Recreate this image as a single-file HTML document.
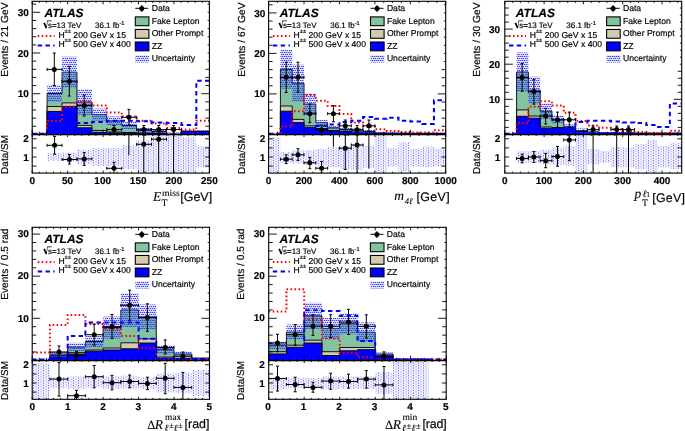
<!DOCTYPE html><html><head><meta charset="utf-8"><style>html,body{margin:0;padding:0;background:#fff;width:685px;height:431px;overflow:hidden}svg{display:block;will-change:transform}text{fill:#000;stroke:#000;stroke-width:0.18px;text-rendering:geometricPrecision}text[font-family="Liberation Serif"]{stroke-width:0.1px}</style></head><body><svg width="685" height="431" viewBox="0 0 685 431" font-family="Liberation Sans"><defs><pattern id="dots" width="4" height="4" patternUnits="userSpaceOnUse"><rect x="0" y="0" width="4" height="4" fill="#0000ff" fill-opacity="0.12"/><rect x="0" y="0" width="1.35" height="1" fill="#3c3cff"/><rect x="2" y="0" width="1.35" height="1" fill="#3c3cff"/><rect x="1" y="2" width="1.35" height="1" fill="#3c3cff"/><rect x="3" y="2" width="1.35" height="1" fill="#3c3cff"/></pattern><pattern id="dots2" width="5" height="5" patternUnits="userSpaceOnUse"><rect x="0" y="0" width="5" height="5" fill="#0000ff" fill-opacity="0.05"/><rect x="3" y="0" width="1" height="1.2" fill="#7070ff"/><rect x="3" y="2.5" width="1" height="1.2" fill="#7070ff"/><rect x="0.5" y="1.25" width="1.2" height="1" fill="#a0a0ff"/><rect x="0.5" y="3.75" width="1.2" height="1" fill="#a0a0ff"/></pattern></defs><clipPath id="cm1"><rect x="32.2" y="1.3" width="177.2" height="133.3"/></clipPath><clipPath id="cr1"><rect x="32.2" y="134.6" width="177.2" height="38.5"/></clipPath><g clip-path="url(#cm1)"><path d="M32.2 134.4 L32.2 134.4 L47.12 134.4 L47.12 93.5 L62.04 93.5 L62.04 72.2 L76.96 72.2 L76.96 102 L91.88 102 L91.88 114.6 L106.8 114.6 L106.8 121 L121.72 121 L121.72 125.5 L136.64 125.5 L136.64 130.5 L151.56 130.5 L151.56 131.5 L166.48 131.5 L166.48 134 L181.4 134 L181.4 131.2 L196.32 131.2 L196.32 131.2 L209.4 131.2 L209.4 134.4" fill="#84c3a0" stroke="#000" stroke-width="0.9"/><path d="M32.2 134.4 L32.2 134.4 L47.12 134.4 L47.12 106.5 L62.04 106.5 L62.04 102.9 L76.96 102.9 L76.96 125.4 L91.88 125.4 L91.88 130.5 L106.8 130.5 L106.8 132 L121.72 132 L121.72 132.5 L136.64 132.5 L136.64 133 L151.56 133 L151.56 133.3 L166.48 133.3 L166.48 134.4 L181.4 134.4 L181.4 131.5 L196.32 131.5 L196.32 131.5 L209.4 131.5 L209.4 134.4" fill="#d3cbae" stroke="#000" stroke-width="0.9"/><path d="M32.2 134.4 L32.2 134.4 L47.12 134.4 L47.12 111.5 L62.04 111.5 L62.04 106.5 L76.96 106.5 L76.96 127.8 L91.88 127.8 L91.88 132.3 L106.8 132.3 L106.8 133 L121.72 133 L121.72 133.3 L136.64 133.3 L136.64 133.2 L151.56 133.2 L151.56 133.5 L166.48 133.5 L166.48 134.4 L181.4 134.4 L181.4 131.5 L196.32 131.5 L196.32 131.5 L209.4 131.5 L209.4 134.4" fill="#0000ff" stroke="#000" stroke-width="0.9"/><rect x="47.12" y="85" width="14.92" height="17" fill="url(#dots)"/><rect x="62.04" y="56.7" width="14.92" height="31" fill="url(#dots)"/><rect x="76.96" y="89" width="14.92" height="26" fill="url(#dots)"/><rect x="91.88" y="108.6" width="14.92" height="12" fill="url(#dots)"/><rect x="106.8" y="116.5" width="14.92" height="9" fill="url(#dots)"/><rect x="121.72" y="122" width="14.92" height="7" fill="url(#dots)"/><rect x="136.64" y="128" width="14.92" height="5" fill="url(#dots)"/><rect x="151.56" y="129.5" width="14.92" height="4" fill="url(#dots)"/><rect x="166.48" y="132.5" width="14.92" height="3" fill="url(#dots)"/><rect x="181.4" y="130.2" width="14.92" height="2" fill="url(#dots)"/><rect x="196.32" y="130.2" width="13.08" height="2" fill="url(#dots)"/><path d="M32.2 133.8 L47.12 133.8 L47.12 120.9 L62.04 120.9 L62.04 106.5 L76.96 106.5 L76.96 102 L91.88 102 L91.88 105.5 L106.8 105.5 L106.8 112.5 L121.72 112.5 L121.72 116.4 L136.64 116.4 L136.64 120.8 L151.56 120.8 L151.56 123.4 L166.48 123.4 L166.48 127.9 L181.4 127.9 L181.4 129.6 L196.32 129.6 L196.32 120.8 L209.4 120.8" fill="none" stroke="#ff0000" stroke-width="2" stroke-dasharray="1.6 2.4"/><path d="M32.2 133.8 L47.12 133.8 L47.12 130 L62.04 130 L62.04 126 L76.96 126 L76.96 122.9 L91.88 122.9 L91.88 122 L106.8 122 L106.8 120.8 L121.72 120.8 L121.72 120.8 L136.64 120.8 L136.64 121.3 L151.56 121.3 L151.56 122.6 L166.48 122.6 L166.48 123.1 L181.4 123.1 L181.4 124.9 L196.32 124.9 L196.32 80.8 L209.4 80.8" fill="none" stroke="#0000ff" stroke-width="2" stroke-dasharray="4.4 3.4"/><path d="M47.12 69.4 H62.04 M54.3 53 V85.5 M52.8 53 H55.8 M52.8 85.5 H55.8 M47.12 67.9 V70.9 M62.04 67.9 V70.9" stroke="#000" stroke-width="1" fill="none"/><circle cx="54.3" cy="69.4" r="2.5" fill="#000"/><path d="M62.04 81.3 H76.96 M69.3 66.4 V96 M67.8 66.4 H70.8 M67.8 96 H70.8 M62.04 79.8 V82.8 M76.96 79.8 V82.8" stroke="#000" stroke-width="1" fill="none"/><circle cx="69.3" cy="81.3" r="2.5" fill="#000"/><path d="M76.96 105.5 H91.88 M84.2 95 V116 M82.7 95 H85.7 M82.7 116 H85.7 M76.96 104 V107 M91.88 104 V107" stroke="#000" stroke-width="1" fill="none"/><circle cx="84.2" cy="105.5" r="2.5" fill="#000"/><path d="M106.8 129.6 H121.72 M114 125.5 V133.7 M112.5 125.5 H115.5 M112.5 133.7 H115.5 M106.8 128.1 V131.1 M121.72 128.1 V131.1" stroke="#000" stroke-width="1" fill="none"/><circle cx="114" cy="129.6" r="2.5" fill="#000"/><path d="M121.72 117.3 H136.64 M128.9 109.4 V125.2 M127.4 109.4 H130.4 M127.4 125.2 H130.4 M121.72 115.8 V118.8 M136.64 115.8 V118.8" stroke="#000" stroke-width="1" fill="none"/><circle cx="128.9" cy="117.3" r="2.5" fill="#000"/><path d="M136.64 129.6 H151.56 M143.8 125.5 V133.7 M142.3 125.5 H145.3 M142.3 133.7 H145.3 M136.64 128.1 V131.1 M151.56 128.1 V131.1" stroke="#000" stroke-width="1" fill="none"/><circle cx="143.8" cy="129.6" r="2.5" fill="#000"/><path d="M151.56 129.6 H166.48 M158.7 125.5 V133.7 M157.2 125.5 H160.2 M157.2 133.7 H160.2 M151.56 128.1 V131.1 M166.48 128.1 V131.1" stroke="#000" stroke-width="1" fill="none"/><circle cx="158.7" cy="129.6" r="2.5" fill="#000"/><path d="M166.48 129.6 H181.4 M173.6 125.5 V133.7 M172.1 125.5 H175.1 M172.1 133.7 H175.1 M166.48 128.1 V131.1 M181.4 128.1 V131.1" stroke="#000" stroke-width="1" fill="none"/><circle cx="173.6" cy="129.6" r="2.5" fill="#000"/></g><g clip-path="url(#cr1)"><rect x="47.12" y="153.3" width="14.92" height="7.4" fill="url(#dots2)"/><rect x="62.04" y="152.5" width="14.92" height="9" fill="url(#dots2)"/><rect x="76.96" y="149.8" width="14.92" height="14.4" fill="url(#dots2)"/><rect x="91.88" y="147.9" width="14.92" height="18" fill="url(#dots2)"/><rect x="106.8" y="147.9" width="14.92" height="18" fill="url(#dots2)"/><rect x="121.72" y="145.4" width="14.92" height="23.7" fill="url(#dots2)"/><rect x="136.64" y="140.5" width="14.92" height="31.9" fill="url(#dots2)"/><rect x="151.56" y="135.6" width="14.92" height="37.5" fill="url(#dots2)"/><rect x="166.48" y="134.6" width="14.92" height="38.5" fill="url(#dots2)"/><rect x="181.4" y="137.3" width="14.92" height="35.8" fill="url(#dots2)"/><rect x="196.32" y="146.3" width="13.08" height="21.2" fill="url(#dots2)"/><path d="M47.12 145.3 H62.04 M54.6 136.4 V154.2 M53.1 136.4 H56.1 M53.1 154.2 H56.1 M47.12 143.8 V146.8 M62.04 143.8 V146.8" stroke="#000" stroke-width="1" fill="none"/><circle cx="54.6" cy="145.3" r="2.5" fill="#000"/><path d="M62.04 159.5 H76.96 M69.4 154.6 V164 M67.9 154.6 H70.9 M67.9 164 H70.9 M62.04 158 V161 M76.96 158 V161" stroke="#000" stroke-width="1" fill="none"/><circle cx="69.4" cy="159.5" r="2.5" fill="#000"/><path d="M76.96 158.9 H91.88 M84.2 152.6 V165.4 M82.7 152.6 H85.7 M82.7 165.4 H85.7 M76.96 157.4 V160.4 M91.88 157.4 V160.4" stroke="#000" stroke-width="1" fill="none"/><circle cx="84.2" cy="158.9" r="2.5" fill="#000"/><path d="M106.8 168.3 H121.72 M114 162.3 V174.5 M112.5 162.3 H115.5 M112.5 174.5 H115.5 M106.8 166.8 V169.8 M121.72 166.8 V169.8" stroke="#000" stroke-width="1" fill="none"/><circle cx="114" cy="168.3" r="2.5" fill="#000"/><path d="M128.9 134.6 V155.2" stroke="#000" stroke-width="1" fill="none"/><path d="M136.64 144.3 H151.56 M143.8 135.1 V173.2 M142.3 135.1 H145.3 M142.3 173.2 H145.3 M136.64 142.8 V145.8 M151.56 142.8 V145.8" stroke="#000" stroke-width="1" fill="none"/><circle cx="143.8" cy="144.3" r="2.5" fill="#000"/><path d="M151.56 139.2 H166.48 M158.7 135 V173.2 M157.2 135 H160.2 M157.2 173.2 H160.2 M151.56 137.7 V140.7 M166.48 137.7 V140.7" stroke="#000" stroke-width="1" fill="none"/><circle cx="158.7" cy="139.2" r="2.5" fill="#000"/><path d="M173.6 134.6 V173.2" stroke="#000" stroke-width="1" fill="none"/></g><rect x="32.2" y="1.3" width="177.2" height="133.3" fill="none" stroke="#000" stroke-width="1.1"/><rect x="32.2" y="134.6" width="177.2" height="38.5" fill="none" stroke="#000" stroke-width="1.1"/><path d="M32.2 134.4 H40.2 M209.4 134.4 H201.4 M32.2 126.26 H36.2 M209.4 126.26 H205.4 M32.2 118.12 H36.2 M209.4 118.12 H205.4 M32.2 109.98 H36.2 M209.4 109.98 H205.4 M32.2 101.84 H36.2 M209.4 101.84 H205.4 M32.2 93.7 H40.2 M209.4 93.7 H201.4 M32.2 85.56 H36.2 M209.4 85.56 H205.4 M32.2 77.42 H36.2 M209.4 77.42 H205.4 M32.2 69.28 H36.2 M209.4 69.28 H205.4 M32.2 61.14 H36.2 M209.4 61.14 H207.6 M32.2 53 H40.2 M209.4 53 H207.6 M32.2 44.86 H36.2 M209.4 44.86 H207.6 M32.2 36.72 H36.2 M209.4 36.72 H207.6 M32.2 28.58 H36.2 M209.4 28.58 H207.6 M32.2 20.44 H36.2 M209.4 20.44 H207.6 M32.2 12.3 H40.2 M209.4 12.3 H207.6 M32.2 4.16 H36.2 M209.4 4.16 H207.6 M32.2 166.1 H36.5 M209.4 166.1 H205.1 M32.2 157 H36.5 M209.4 157 H205.1 M32.2 147.9 H36.5 M209.4 147.9 H205.1 M32.2 138.8 H36.5 M209.4 138.8 H205.1 M32.2 1.3 V4.3 M32.2 134.6 V129.6 M32.2 134.6 V137.1 M32.2 173.1 V170.6 M39.29 1.3 V2.9 M39.29 134.6 V131.8 M39.29 134.6 V136 M39.29 173.1 V171.7 M46.38 1.3 V2.9 M46.38 134.6 V131.8 M46.38 134.6 V136 M46.38 173.1 V171.7 M53.46 1.3 V2.9 M53.46 134.6 V131.8 M53.46 134.6 V136 M53.46 173.1 V171.7 M60.55 1.3 V2.9 M60.55 134.6 V131.8 M60.55 134.6 V136 M60.55 173.1 V171.7 M67.64 1.3 V4.3 M67.64 134.6 V129.6 M67.64 134.6 V137.1 M67.64 173.1 V170.6 M74.73 1.3 V2.9 M74.73 134.6 V131.8 M74.73 134.6 V136 M74.73 173.1 V171.7 M81.82 1.3 V2.9 M81.82 134.6 V131.8 M81.82 134.6 V136 M81.82 173.1 V171.7 M88.9 1.3 V2.9 M88.9 134.6 V131.8 M88.9 134.6 V136 M88.9 173.1 V171.7 M95.99 1.3 V2.9 M95.99 134.6 V131.8 M95.99 134.6 V136 M95.99 173.1 V171.7 M103.08 1.3 V4.3 M103.08 134.6 V129.6 M103.08 134.6 V137.1 M103.08 173.1 V170.6 M110.17 1.3 V2.9 M110.17 134.6 V131.8 M110.17 134.6 V136 M110.17 173.1 V171.7 M117.26 1.3 V2.9 M117.26 134.6 V131.8 M117.26 134.6 V136 M117.26 173.1 V171.7 M124.34 1.3 V2.9 M124.34 134.6 V131.8 M124.34 134.6 V136 M124.34 173.1 V171.7 M131.43 1.3 V2.9 M131.43 134.6 V131.8 M131.43 134.6 V136 M131.43 173.1 V171.7 M138.52 1.3 V4.3 M138.52 134.6 V129.6 M138.52 134.6 V137.1 M138.52 173.1 V170.6 M145.61 1.3 V2.9 M145.61 134.6 V131.8 M145.61 134.6 V136 M145.61 173.1 V171.7 M152.7 1.3 V2.9 M152.7 134.6 V131.8 M152.7 134.6 V136 M152.7 173.1 V171.7 M159.78 1.3 V2.9 M159.78 134.6 V131.8 M159.78 134.6 V136 M159.78 173.1 V171.7 M166.87 1.3 V2.9 M166.87 134.6 V131.8 M166.87 134.6 V136 M166.87 173.1 V171.7 M173.96 1.3 V4.3 M173.96 134.6 V129.6 M173.96 134.6 V137.1 M173.96 173.1 V170.6 M181.05 1.3 V2.9 M181.05 134.6 V131.8 M181.05 134.6 V136 M181.05 173.1 V171.7 M188.14 1.3 V2.9 M188.14 134.6 V131.8 M188.14 134.6 V136 M188.14 173.1 V171.7 M195.22 1.3 V2.9 M195.22 134.6 V131.8 M195.22 134.6 V136 M195.22 173.1 V171.7 M202.31 1.3 V2.9 M202.31 134.6 V131.8 M202.31 134.6 V136 M202.31 173.1 V171.7 M209.4 1.3 V4.3 M209.4 134.6 V129.6 M209.4 134.6 V137.1 M209.4 173.1 V170.6 " stroke="#000" stroke-width="0.9" fill="none"/><text x="28.9" y="97.3" font-size="10" text-anchor="end" font-weight="bold" font-style="normal" font-family="Liberation Sans" >10</text><text x="28.9" y="56.6" font-size="10" text-anchor="end" font-weight="bold" font-style="normal" font-family="Liberation Sans" >20</text><text x="28.9" y="15.9" font-size="10" text-anchor="end" font-weight="bold" font-style="normal" font-family="Liberation Sans" >30</text><text x="28.9" y="142.4" font-size="10" text-anchor="end" font-weight="bold" font-style="normal" font-family="Liberation Sans" >2</text><text x="28.9" y="160.6" font-size="10" text-anchor="end" font-weight="bold" font-style="normal" font-family="Liberation Sans" >1</text><text x="32.4" y="184" font-size="10" text-anchor="middle" font-weight="bold" font-style="normal" font-family="Liberation Sans" >0</text><text x="67.6" y="184" font-size="10" text-anchor="middle" font-weight="bold" font-style="normal" font-family="Liberation Sans" >50</text><text x="102.7" y="184" font-size="10" text-anchor="middle" font-weight="bold" font-style="normal" font-family="Liberation Sans" >100</text><text x="138.2" y="184" font-size="10" text-anchor="middle" font-weight="bold" font-style="normal" font-family="Liberation Sans" >150</text><text x="173.9" y="184" font-size="10" text-anchor="middle" font-weight="bold" font-style="normal" font-family="Liberation Sans" >200</text><text x="209.4" y="184" font-size="10" text-anchor="middle" font-weight="bold" font-style="normal" font-family="Liberation Sans" >250</text><text x="8.4" y="2.5" font-size="10.2" text-anchor="end" font-weight="normal" font-style="normal" font-family="Liberation Sans" transform="rotate(-90 8.4 2.5)">Events / 21 GeV</text><text x="8.4" y="135" font-size="10" text-anchor="end" font-family="Liberation Sans" transform="rotate(-90 8.4 135)">Data/SM</text><text x="153" y="201.2" font-size="13.5" font-family="Liberation Serif" font-style="italic">E</text><text x="162" y="195.5" font-size="9.2" font-family="Liberation Serif" textLength="17.8" lengthAdjust="spacingAndGlyphs">miss</text><text x="161.4" y="205.8" font-size="9.8" font-family="Liberation Serif">T</text><text x="180.3" y="200.5" font-size="12.4" font-family="Liberation Sans" textLength="31.8" lengthAdjust="spacing">[GeV]</text><text x="44.5" y="16.9" font-size="12" text-anchor="start" font-weight="bold" font-style="italic" font-family="Liberation Sans" >ATLAS</text><path transform="translate(43.9 20.3)" d="M-0.6 3.0 L1.0 2.1 L2.6 6.2 L3.2 0.3 H7.8 V1.0 H3.7 L2.9 8.0 H1.7 Z" fill="#000"/><text x="47.9" y="27.6" font-size="8" text-anchor="start" font-weight="normal" font-style="normal" font-family="Liberation Sans" >s=13 TeV</text><text x="95" y="27.8" font-size="8" text-anchor="start" font-weight="normal" font-style="normal" font-family="Liberation Sans" >36.1 fb<tspan font-size="5.6" dy="-3">-1</tspan></text><path d="M37.7 36 H54.7" stroke="#ff0000" stroke-width="2" stroke-dasharray="1.6 2.4"/><path d="M37.7 45.6 H54.7" stroke="#0000ff" stroke-width="2" stroke-dasharray="4.4 3.4"/><text x="58.4" y="37.6" font-size="8.6" text-anchor="start" font-weight="normal" font-style="normal" font-family="Liberation Sans" >H<tspan font-size="5.8" dy="-4.8" stroke-width="0.1">±±</tspan><tspan dy="4.8"> 200 GeV x 15</tspan></text><text x="58.4" y="47.2" font-size="8.6" text-anchor="start" font-weight="normal" font-style="normal" font-family="Liberation Sans" >H<tspan font-size="5.8" dy="-4.8" stroke-width="0.1">±±</tspan><tspan dy="4.8"> 500 GeV x 400</tspan></text><path d="M135.3 8.3 H148.3 M141.8 5.1 V12.2" stroke="#000" stroke-width="1"/><circle cx="141.8" cy="8.4" r="2.5"/><rect x="135.3" y="16.9" width="13.6" height="8.8" fill="#84c3a0" stroke="#000" stroke-width="1.1"/><rect x="135.3" y="29.45" width="13.6" height="8.8" fill="#d3cbae" stroke="#000" stroke-width="1.1"/><rect x="135.3" y="42" width="13.6" height="8.8" fill="#0000ff" stroke="#000" stroke-width="1.1"/><rect x="135.3" y="55.3" width="13.8" height="7.2" fill="url(#dots)"/><text x="151.7" y="11.1" font-size="8.6" text-anchor="start" font-weight="normal" font-style="normal" font-family="Liberation Sans" >Data</text><text x="151.7" y="23.65" font-size="8.6" text-anchor="start" font-weight="normal" font-style="normal" font-family="Liberation Sans" >Fake Lepton</text><text x="151.7" y="36.2" font-size="8.6" text-anchor="start" font-weight="normal" font-style="normal" font-family="Liberation Sans" >Other Prompt</text><text x="151.7" y="48.75" font-size="8.6" text-anchor="start" font-weight="normal" font-style="normal" font-family="Liberation Sans" >ZZ</text><text x="151.7" y="61.3" font-size="8.6" text-anchor="start" font-weight="normal" font-style="normal" font-family="Liberation Sans" >Uncertainty</text><clipPath id="cm2"><rect x="268.6" y="1.3" width="177.1" height="133.3"/></clipPath><clipPath id="cr2"><rect x="268.6" y="134.6" width="177.1" height="38.5"/></clipPath><g clip-path="url(#cm2)"><path d="M268.6 134.4 L268.6 134.4 L280.41 134.4 L280.41 69.3 L292.22 69.3 L292.22 83.2 L304.03 83.2 L304.03 104.1 L315.84 104.1 L315.84 122.6 L327.65 122.6 L327.65 127.8 L339.46 127.8 L339.46 129.5 L351.27 129.5 L351.27 130.5 L363.08 130.5 L363.08 131.5 L374.89 131.5 L374.89 133 L386.7 133 L386.7 133.2 L398.51 133.2 L398.51 133.3 L410.32 133.3 L410.32 133.5 L422.13 133.5 L422.13 133.5 L433.94 133.5 L433.94 133.5 L445.7 133.5 L445.7 134.4" fill="#84c3a0" stroke="#000" stroke-width="0.9"/><path d="M268.6 134.4 L268.6 134.4 L280.41 134.4 L280.41 106 L292.22 106 L292.22 119.4 L304.03 119.4 L304.03 125.9 L315.84 125.9 L315.84 128.5 L327.65 128.5 L327.65 130.5 L339.46 130.5 L339.46 131.5 L351.27 131.5 L351.27 132 L363.08 132 L363.08 132.5 L374.89 132.5 L374.89 133.3 L386.7 133.3 L386.7 133.5 L398.51 133.5 L398.51 133.5 L410.32 133.5 L410.32 133.6 L422.13 133.6 L422.13 133.6 L433.94 133.6 L433.94 133.6 L445.7 133.6 L445.7 134.4" fill="#d3cbae" stroke="#000" stroke-width="0.9"/><path d="M268.6 134.4 L268.6 134.4 L280.41 134.4 L280.41 111.2 L292.22 111.2 L292.22 122.6 L304.03 122.6 L304.03 127.4 L315.84 127.4 L315.84 129.3 L327.65 129.3 L327.65 131.2 L339.46 131.2 L339.46 132 L351.27 132 L351.27 132.5 L363.08 132.5 L363.08 133 L374.89 133 L374.89 133.5 L386.7 133.5 L386.7 133.5 L398.51 133.5 L398.51 133.5 L410.32 133.5 L410.32 133.6 L422.13 133.6 L422.13 133.6 L433.94 133.6 L433.94 133.6 L445.7 133.6 L445.7 134.4" fill="#0000ff" stroke="#000" stroke-width="0.9"/><rect x="280.41" y="50" width="11.81" height="38.6" fill="url(#dots)"/><rect x="292.22" y="64.7" width="11.81" height="37" fill="url(#dots)"/><rect x="304.03" y="93.1" width="11.81" height="22" fill="url(#dots)"/><rect x="315.84" y="120.1" width="11.81" height="5" fill="url(#dots)"/><rect x="327.65" y="126.2" width="11.81" height="3.2" fill="url(#dots)"/><rect x="339.46" y="127.5" width="11.81" height="4" fill="url(#dots)"/><rect x="351.27" y="128.5" width="11.81" height="4" fill="url(#dots)"/><rect x="363.08" y="130" width="11.81" height="3" fill="url(#dots)"/><rect x="374.89" y="132" width="11.81" height="2" fill="url(#dots)"/><rect x="386.7" y="132.2" width="11.81" height="2" fill="url(#dots)"/><rect x="398.51" y="132.3" width="11.81" height="2" fill="url(#dots)"/><rect x="410.32" y="132.5" width="11.81" height="2" fill="url(#dots)"/><rect x="422.13" y="132.5" width="11.81" height="2" fill="url(#dots)"/><rect x="433.94" y="132.5" width="11.76" height="2" fill="url(#dots)"/><path d="M268.6 133.8 L280.41 133.8 L280.41 126.4 L292.22 126.4 L292.22 111.2 L304.03 111.2 L304.03 95 L315.84 95 L315.84 100.7 L327.65 100.7 L327.65 106 L339.46 106 L339.46 114 L351.27 114 L351.27 122.6 L363.08 122.6 L363.08 126.4 L374.89 126.4 L374.89 129.2 L386.7 129.2 L386.7 131 L398.51 131 L398.51 132 L410.32 132 L410.32 132.5 L422.13 132.5 L422.13 132.5 L433.94 132.5 L433.94 130.2 L445.7 130.2" fill="none" stroke="#ff0000" stroke-width="2" stroke-dasharray="1.6 2.4"/><path d="M268.6 133.8 L280.41 133.8 L280.41 132 L292.22 132 L292.22 130 L304.03 130 L304.03 128 L315.84 128 L315.84 126 L327.65 126 L327.65 124.5 L339.46 124.5 L339.46 122 L351.27 122 L351.27 120.7 L363.08 120.7 L363.08 116.9 L374.89 116.9 L374.89 118.8 L386.7 118.8 L386.7 117.8 L398.51 117.8 L398.51 120.7 L410.32 120.7 L410.32 121.6 L422.13 121.6 L422.13 123.9 L433.94 123.9 L433.94 100.3 L445.7 100.3" fill="none" stroke="#0000ff" stroke-width="2" stroke-dasharray="4.4 3.4"/><path d="M280.41 77.3 H292.22 M286.2 62.2 V92.5 M284.7 62.2 H287.7 M284.7 92.5 H287.7 M280.41 75.8 V78.8 M292.22 75.8 V78.8" stroke="#000" stroke-width="1" fill="none"/><circle cx="286.2" cy="77.3" r="2.5" fill="#000"/><path d="M292.22 77.3 H304.03 M298 62.2 V92.1 M296.5 62.2 H299.5 M296.5 92.1 H299.5 M292.22 75.8 V78.8 M304.03 75.8 V78.8" stroke="#000" stroke-width="1" fill="none"/><circle cx="298" cy="77.3" r="2.5" fill="#000"/><path d="M304.03 113.7 H315.84 M309.8 104.1 V122.6 M308.3 104.1 H311.3 M308.3 122.6 H311.3 M304.03 112.2 V115.2 M315.84 112.2 V115.2" stroke="#000" stroke-width="1" fill="none"/><circle cx="309.8" cy="113.7" r="2.5" fill="#000"/><path d="M315.84 129.7 H327.65 M321.6 125.6 V133.8 M320.1 125.6 H323.1 M320.1 133.8 H323.1 M315.84 128.2 V131.2 M327.65 128.2 V131.2" stroke="#000" stroke-width="1" fill="none"/><circle cx="321.6" cy="129.7" r="2.5" fill="#000"/><path d="M327.65 113.7 H339.46 M333.4 105.6 V121.8 M331.9 105.6 H334.9 M331.9 121.8 H334.9 M327.65 112.2 V115.2 M339.46 112.2 V115.2" stroke="#000" stroke-width="1" fill="none"/><circle cx="333.4" cy="113.7" r="2.5" fill="#000"/><path d="M339.46 125.8 H351.27 M345.3 120 V131.6 M343.8 120 H346.8 M343.8 131.6 H346.8 M339.46 124.3 V127.3 M351.27 124.3 V127.3" stroke="#000" stroke-width="1" fill="none"/><circle cx="345.3" cy="125.8" r="2.5" fill="#000"/><path d="M351.27 129.7 H363.08 M357.1 125.6 V133.8 M355.6 125.6 H358.6 M355.6 133.8 H358.6 M351.27 128.2 V131.2 M363.08 128.2 V131.2" stroke="#000" stroke-width="1" fill="none"/><circle cx="357.1" cy="129.7" r="2.5" fill="#000"/><path d="M363.08 125.8 H374.89 M368.9 120 V131.6 M367.4 120 H370.4 M367.4 131.6 H370.4 M363.08 124.3 V127.3 M374.89 124.3 V127.3" stroke="#000" stroke-width="1" fill="none"/><circle cx="368.9" cy="125.8" r="2.5" fill="#000"/></g><g clip-path="url(#cr2)"><rect x="268.6" y="137.3" width="11.81" height="35.8" fill="url(#dots2)"/><rect x="280.41" y="151.9" width="11.81" height="10.9" fill="url(#dots2)"/><rect x="292.22" y="150.4" width="11.81" height="13.2" fill="url(#dots2)"/><rect x="304.03" y="150.4" width="11.81" height="14.6" fill="url(#dots2)"/><rect x="315.84" y="149" width="11.81" height="16.5" fill="url(#dots2)"/><rect x="327.65" y="147" width="11.81" height="20" fill="url(#dots2)"/><rect x="339.46" y="146" width="11.81" height="23" fill="url(#dots2)"/><rect x="351.27" y="143.9" width="11.81" height="26.1" fill="url(#dots2)"/><rect x="363.08" y="145.6" width="11.81" height="22.4" fill="url(#dots2)"/><rect x="374.89" y="134.6" width="11.81" height="37.8" fill="url(#dots2)"/><rect x="386.7" y="147.9" width="11.81" height="18.6" fill="url(#dots2)"/><rect x="398.51" y="141.9" width="11.81" height="29.8" fill="url(#dots2)"/><rect x="410.32" y="148.6" width="11.81" height="17.9" fill="url(#dots2)"/><rect x="422.13" y="146.4" width="11.81" height="20.8" fill="url(#dots2)"/><rect x="433.94" y="148.6" width="11.76" height="17.9" fill="url(#dots2)"/><path d="M280.41 159.2 H292.22 M286.2 154.8 V163.6 M284.7 154.8 H287.7 M284.7 163.6 H287.7 M280.41 157.7 V160.7 M292.22 157.7 V160.7" stroke="#000" stroke-width="1" fill="none"/><circle cx="286.2" cy="159.2" r="2.5" fill="#000"/><path d="M292.22 154.8 H304.03 M298 148.7 V160.4 M296.5 148.7 H299.5 M296.5 160.4 H299.5 M292.22 153.3 V156.3 M304.03 153.3 V156.3" stroke="#000" stroke-width="1" fill="none"/><circle cx="298" cy="154.8" r="2.5" fill="#000"/><path d="M304.03 162.8 H315.84 M309.8 157.4 V168.7 M308.3 157.4 H311.3 M308.3 168.7 H311.3 M304.03 161.3 V164.3 M315.84 161.3 V164.3" stroke="#000" stroke-width="1" fill="none"/><circle cx="309.8" cy="162.8" r="2.5" fill="#000"/><path d="M315.84 168.2 H327.65 M321.6 161.4 V173 M320.1 161.4 H323.1 M320.1 173 H323.1 M315.84 166.7 V169.7 M327.65 166.7 V169.7" stroke="#000" stroke-width="1" fill="none"/><circle cx="321.6" cy="168.2" r="2.5" fill="#000"/><path d="M333.4 134.6 V146.8" stroke="#000" stroke-width="1" fill="none"/><path d="M339.46 148.2 H351.27 M345.3 135 V169.4 M343.8 135 H346.8 M343.8 169.4 H346.8 M339.46 146.7 V149.7 M351.27 146.7 V149.7" stroke="#000" stroke-width="1" fill="none"/><circle cx="345.3" cy="148.2" r="2.5" fill="#000"/><path d="M351.27 145 H363.08 M357.1 135 V173.1 M355.6 135 H358.6 M355.6 173.1 H358.6 M351.27 143.5 V146.5 M363.08 143.5 V146.5" stroke="#000" stroke-width="1" fill="none"/><circle cx="357.1" cy="145" r="2.5" fill="#000"/><path d="M368.9 134.6 V168.7" stroke="#000" stroke-width="1" fill="none"/></g><rect x="268.6" y="1.3" width="177.1" height="133.3" fill="none" stroke="#000" stroke-width="1.1"/><rect x="268.6" y="134.6" width="177.1" height="38.5" fill="none" stroke="#000" stroke-width="1.1"/><path d="M268.6 134.4 H276.6 M445.7 134.4 H437.7 M268.6 126.3 H272.6 M445.7 126.3 H441.7 M268.6 118.2 H272.6 M445.7 118.2 H441.7 M268.6 110.1 H272.6 M445.7 110.1 H441.7 M268.6 102 H272.6 M445.7 102 H441.7 M268.6 93.9 H276.6 M445.7 93.9 H437.7 M268.6 85.8 H272.6 M445.7 85.8 H441.7 M268.6 77.7 H272.6 M445.7 77.7 H441.7 M268.6 69.6 H272.6 M445.7 69.6 H441.7 M268.6 61.5 H272.6 M445.7 61.5 H443.9 M268.6 53.4 H276.6 M445.7 53.4 H443.9 M268.6 45.3 H272.6 M445.7 45.3 H443.9 M268.6 37.2 H272.6 M445.7 37.2 H443.9 M268.6 29.1 H272.6 M445.7 29.1 H443.9 M268.6 21 H272.6 M445.7 21 H443.9 M268.6 12.9 H276.6 M445.7 12.9 H443.9 M268.6 4.8 H272.6 M445.7 4.8 H443.9 M268.6 166.1 H272.9 M445.7 166.1 H441.4 M268.6 157 H272.9 M445.7 157 H441.4 M268.6 147.9 H272.9 M445.7 147.9 H441.4 M268.6 138.8 H272.9 M445.7 138.8 H441.4 M268.6 1.3 V4.3 M268.6 134.6 V129.6 M268.6 134.6 V137.1 M268.6 173.1 V170.6 M277.46 1.3 V2.9 M277.46 134.6 V131.8 M277.46 134.6 V136 M277.46 173.1 V171.7 M286.31 1.3 V2.9 M286.31 134.6 V131.8 M286.31 134.6 V136 M286.31 173.1 V171.7 M295.17 1.3 V2.9 M295.17 134.6 V131.8 M295.17 134.6 V136 M295.17 173.1 V171.7 M304.02 1.3 V4.3 M304.02 134.6 V129.6 M304.02 134.6 V137.1 M304.02 173.1 V170.6 M312.88 1.3 V2.9 M312.88 134.6 V131.8 M312.88 134.6 V136 M312.88 173.1 V171.7 M321.73 1.3 V2.9 M321.73 134.6 V131.8 M321.73 134.6 V136 M321.73 173.1 V171.7 M330.59 1.3 V2.9 M330.59 134.6 V131.8 M330.59 134.6 V136 M330.59 173.1 V171.7 M339.44 1.3 V4.3 M339.44 134.6 V129.6 M339.44 134.6 V137.1 M339.44 173.1 V170.6 M348.3 1.3 V2.9 M348.3 134.6 V131.8 M348.3 134.6 V136 M348.3 173.1 V171.7 M357.15 1.3 V2.9 M357.15 134.6 V131.8 M357.15 134.6 V136 M357.15 173.1 V171.7 M366 1.3 V2.9 M366 134.6 V131.8 M366 134.6 V136 M366 173.1 V171.7 M374.86 1.3 V4.3 M374.86 134.6 V129.6 M374.86 134.6 V137.1 M374.86 173.1 V170.6 M383.72 1.3 V2.9 M383.72 134.6 V131.8 M383.72 134.6 V136 M383.72 173.1 V171.7 M392.57 1.3 V2.9 M392.57 134.6 V131.8 M392.57 134.6 V136 M392.57 173.1 V171.7 M401.43 1.3 V2.9 M401.43 134.6 V131.8 M401.43 134.6 V136 M401.43 173.1 V171.7 M410.28 1.3 V4.3 M410.28 134.6 V129.6 M410.28 134.6 V137.1 M410.28 173.1 V170.6 M419.13 1.3 V2.9 M419.13 134.6 V131.8 M419.13 134.6 V136 M419.13 173.1 V171.7 M427.99 1.3 V2.9 M427.99 134.6 V131.8 M427.99 134.6 V136 M427.99 173.1 V171.7 M436.85 1.3 V2.9 M436.85 134.6 V131.8 M436.85 134.6 V136 M436.85 173.1 V171.7 M445.7 1.3 V4.3 M445.7 134.6 V129.6 M445.7 134.6 V137.1 M445.7 173.1 V170.6 " stroke="#000" stroke-width="0.9" fill="none"/><text x="265.3" y="97.1" font-size="10" text-anchor="end" font-weight="bold" font-style="normal" font-family="Liberation Sans" >10</text><text x="265.3" y="56.5" font-size="10" text-anchor="end" font-weight="bold" font-style="normal" font-family="Liberation Sans" >20</text><text x="265.3" y="16.6" font-size="10" text-anchor="end" font-weight="bold" font-style="normal" font-family="Liberation Sans" >30</text><text x="265.3" y="142.4" font-size="10" text-anchor="end" font-weight="bold" font-style="normal" font-family="Liberation Sans" >2</text><text x="265.3" y="160.6" font-size="10" text-anchor="end" font-weight="bold" font-style="normal" font-family="Liberation Sans" >1</text><text x="268.6" y="184" font-size="10" text-anchor="middle" font-weight="bold" font-style="normal" font-family="Liberation Sans" >0</text><text x="304" y="184" font-size="10" text-anchor="middle" font-weight="bold" font-style="normal" font-family="Liberation Sans" >200</text><text x="339.5" y="184" font-size="10" text-anchor="middle" font-weight="bold" font-style="normal" font-family="Liberation Sans" >400</text><text x="374.9" y="184" font-size="10" text-anchor="middle" font-weight="bold" font-style="normal" font-family="Liberation Sans" >600</text><text x="410.3" y="184" font-size="10" text-anchor="middle" font-weight="bold" font-style="normal" font-family="Liberation Sans" >800</text><text x="445.7" y="184" font-size="10" text-anchor="middle" font-weight="bold" font-style="normal" font-family="Liberation Sans" >1000</text><text x="244.8" y="2.5" font-size="10.2" text-anchor="end" font-weight="normal" font-style="normal" font-family="Liberation Sans" transform="rotate(-90 244.8 2.5)">Events / 67 GeV</text><text x="244.8" y="135" font-size="10" text-anchor="end" font-family="Liberation Sans" transform="rotate(-90 244.8 135)">Data/SM</text><text x="394.3" y="199.8" font-size="13.5" font-family="Liberation Serif" font-style="italic">m</text><text x="404.8" y="204.4" font-size="8.6" font-family="Liberation Serif" font-style="italic">4ℓ</text><text x="416.6" y="201.2" font-size="12.4" font-family="Liberation Sans" textLength="33" lengthAdjust="spacing">[GeV]</text><text x="279.7" y="16.9" font-size="12" text-anchor="start" font-weight="bold" font-style="italic" font-family="Liberation Sans" >ATLAS</text><path transform="translate(279.1 20.3)" d="M-0.6 3.0 L1.0 2.1 L2.6 6.2 L3.2 0.3 H7.8 V1.0 H3.7 L2.9 8.0 H1.7 Z" fill="#000"/><text x="283.1" y="27.6" font-size="8" text-anchor="start" font-weight="normal" font-style="normal" font-family="Liberation Sans" >s=13 TeV</text><text x="330.2" y="27.8" font-size="8" text-anchor="start" font-weight="normal" font-style="normal" font-family="Liberation Sans" >36.1 fb<tspan font-size="5.6" dy="-3">-1</tspan></text><path d="M272.9 36 H289.9" stroke="#ff0000" stroke-width="2" stroke-dasharray="1.6 2.4"/><path d="M272.9 45.6 H289.9" stroke="#0000ff" stroke-width="2" stroke-dasharray="4.4 3.4"/><text x="293.6" y="37.6" font-size="8.6" text-anchor="start" font-weight="normal" font-style="normal" font-family="Liberation Sans" >H<tspan font-size="5.8" dy="-4.8" stroke-width="0.1">±±</tspan><tspan dy="4.8"> 200 GeV x 15</tspan></text><text x="293.6" y="47.2" font-size="8.6" text-anchor="start" font-weight="normal" font-style="normal" font-family="Liberation Sans" >H<tspan font-size="5.8" dy="-4.8" stroke-width="0.1">±±</tspan><tspan dy="4.8"> 500 GeV x 400</tspan></text><path d="M370.5 8.3 H383.5 M377 5.1 V12.2" stroke="#000" stroke-width="1"/><circle cx="377" cy="8.4" r="2.5"/><rect x="370.5" y="16.9" width="13.6" height="8.8" fill="#84c3a0" stroke="#000" stroke-width="1.1"/><rect x="370.5" y="29.45" width="13.6" height="8.8" fill="#d3cbae" stroke="#000" stroke-width="1.1"/><rect x="370.5" y="42" width="13.6" height="8.8" fill="#0000ff" stroke="#000" stroke-width="1.1"/><rect x="370.5" y="55.3" width="13.8" height="7.2" fill="url(#dots)"/><text x="386.9" y="11.1" font-size="8.6" text-anchor="start" font-weight="normal" font-style="normal" font-family="Liberation Sans" >Data</text><text x="386.9" y="23.65" font-size="8.6" text-anchor="start" font-weight="normal" font-style="normal" font-family="Liberation Sans" >Fake Lepton</text><text x="386.9" y="36.2" font-size="8.6" text-anchor="start" font-weight="normal" font-style="normal" font-family="Liberation Sans" >Other Prompt</text><text x="386.9" y="48.75" font-size="8.6" text-anchor="start" font-weight="normal" font-style="normal" font-family="Liberation Sans" >ZZ</text><text x="386.9" y="61.3" font-size="8.6" text-anchor="start" font-weight="normal" font-style="normal" font-family="Liberation Sans" >Uncertainty</text><clipPath id="cm3"><rect x="504.8" y="1.3" width="176.9" height="133.3"/></clipPath><clipPath id="cr3"><rect x="504.8" y="134.6" width="176.9" height="38.5"/></clipPath><g clip-path="url(#cm3)"><path d="M504.8 134.4 L504.8 134.4 L516.59 134.4 L516.59 72 L528.38 72 L528.38 90.2 L540.17 90.2 L540.17 111.2 L551.96 111.2 L551.96 119.8 L563.75 119.8 L563.75 126.4 L575.54 126.4 L575.54 130.5 L587.33 130.5 L587.33 132 L599.12 132 L599.12 132.8 L610.91 132.8 L610.91 132.8 L622.7 132.8 L622.7 132.8 L634.49 132.8 L634.49 133.3 L646.28 133.3 L646.28 133.3 L658.07 133.3 L658.07 133.3 L669.86 133.3 L669.86 133.3 L681.65 133.3 L681.65 134.4" fill="#84c3a0" stroke="#000" stroke-width="0.9"/><path d="M504.8 134.4 L504.8 134.4 L516.59 134.4 L516.59 109.9 L528.38 109.9 L528.38 116 L540.17 116 L540.17 127 L551.96 127 L551.96 127.5 L563.75 127.5 L563.75 127.8 L575.54 127.8 L575.54 131.5 L587.33 131.5 L587.33 132.3 L599.12 132.3 L599.12 133 L610.91 133 L610.91 133 L622.7 133 L622.7 133 L634.49 133 L634.49 133.5 L646.28 133.5 L646.28 133.5 L658.07 133.5 L658.07 133.5 L669.86 133.5 L669.86 133.5 L681.65 133.5 L681.65 134.4" fill="#d3cbae" stroke="#000" stroke-width="0.9"/><path d="M504.8 134.4 L504.8 134.4 L516.59 134.4 L516.59 116.3 L528.38 116.3 L528.38 118.2 L540.17 118.2 L540.17 128.3 L551.96 128.3 L551.96 128.3 L563.75 128.3 L563.75 128.3 L575.54 128.3 L575.54 132 L587.33 132 L587.33 132.5 L599.12 132.5 L599.12 133 L610.91 133 L610.91 133 L622.7 133 L622.7 133 L634.49 133 L634.49 133.5 L646.28 133.5 L646.28 133.5 L658.07 133.5 L658.07 133.5 L669.86 133.5 L669.86 133.5 L681.65 133.5 L681.65 134.4" fill="#0000ff" stroke="#000" stroke-width="0.9"/><rect x="516.59" y="52.5" width="11.79" height="39" fill="url(#dots)"/><rect x="528.38" y="76.7" width="11.79" height="27" fill="url(#dots)"/><rect x="540.17" y="103.6" width="11.79" height="15.2" fill="url(#dots)"/><rect x="551.96" y="115.6" width="11.79" height="8.4" fill="url(#dots)"/><rect x="563.75" y="124.4" width="11.79" height="4" fill="url(#dots)"/><rect x="575.54" y="128.5" width="11.79" height="4" fill="url(#dots)"/><rect x="587.33" y="130.5" width="11.79" height="3" fill="url(#dots)"/><rect x="599.12" y="131.8" width="11.79" height="2" fill="url(#dots)"/><rect x="610.91" y="131.8" width="11.79" height="2" fill="url(#dots)"/><rect x="622.7" y="131.8" width="11.79" height="2" fill="url(#dots)"/><rect x="634.49" y="132.3" width="11.79" height="2" fill="url(#dots)"/><rect x="646.28" y="132.3" width="11.79" height="2" fill="url(#dots)"/><rect x="658.07" y="132.3" width="11.79" height="2" fill="url(#dots)"/><rect x="669.86" y="132.3" width="11.79" height="2" fill="url(#dots)"/><path d="M504.8 133.8 L516.59 133.8 L516.59 123.1 L528.38 123.1 L528.38 106.8 L540.17 106.8 L540.17 101.3 L551.96 101.3 L551.96 105.5 L563.75 105.5 L563.75 112.8 L575.54 112.8 L575.54 121 L587.33 121 L587.33 125.4 L599.12 125.4 L599.12 127.7 L610.91 127.7 L610.91 129.2 L622.7 129.2 L622.7 131.1 L634.49 131.1 L634.49 132.1 L646.28 132.1 L646.28 133 L658.07 133 L658.07 133 L669.86 133 L669.86 130.7 L681.65 130.7" fill="none" stroke="#ff0000" stroke-width="2" stroke-dasharray="1.6 2.4"/><path d="M504.8 133.8 L516.59 133.8 L516.59 131 L528.38 131 L528.38 130 L540.17 130 L540.17 129.5 L551.96 129.5 L551.96 129 L563.75 129 L563.75 128 L575.54 128 L575.54 122 L587.33 122 L587.33 120.7 L599.12 120.7 L599.12 120.7 L610.91 120.7 L610.91 121.6 L622.7 121.6 L622.7 122.6 L634.49 122.6 L634.49 122.9 L646.28 122.9 L646.28 125 L658.07 125 L658.07 126.9 L669.86 126.9 L669.86 103.5 L681.65 103.5" fill="none" stroke="#0000ff" stroke-width="2" stroke-dasharray="4.4 3.4"/><path d="M516.59 77.5 H528.38 M522.1 63.6 V91.2 M520.6 63.6 H523.6 M520.6 91.2 H523.6 M516.59 76 V79 M528.38 76 V79" stroke="#000" stroke-width="1" fill="none"/><circle cx="522.1" cy="77.5" r="2.5" fill="#000"/><path d="M528.38 91.6 H540.17 M533.9 79.4 V104.1 M532.4 79.4 H535.4 M532.4 104.1 H535.4 M528.38 90.1 V93.1 M540.17 90.1 V93.1" stroke="#000" stroke-width="1" fill="none"/><circle cx="533.9" cy="91.6" r="2.5" fill="#000"/><path d="M540.17 116 H551.96 M545.7 108.3 V124 M544.2 108.3 H547.2 M544.2 124 H547.2 M540.17 114.5 V117.5 M551.96 114.5 V117.5" stroke="#000" stroke-width="1" fill="none"/><circle cx="545.7" cy="116" r="2.5" fill="#000"/><path d="M551.96 119.8 H563.75 M557.5 112.1 V127.4 M556 112.1 H559 M556 127.4 H559 M551.96 118.3 V121.3 M563.75 118.3 V121.3" stroke="#000" stroke-width="1" fill="none"/><circle cx="557.5" cy="119.8" r="2.5" fill="#000"/><path d="M563.75 119.8 H575.54 M569.3 112.1 V127.4 M567.8 112.1 H570.8 M567.8 127.4 H570.8 M563.75 118.3 V121.3 M575.54 118.3 V121.3" stroke="#000" stroke-width="1" fill="none"/><circle cx="569.3" cy="119.8" r="2.5" fill="#000"/><path d="M587.33 129.6 H599.12 M593.1 126 V133.5 M591.6 126 H594.6 M591.6 133.5 H594.6 M587.33 128.1 V131.1 M599.12 128.1 V131.1" stroke="#000" stroke-width="1" fill="none"/><circle cx="593.1" cy="129.6" r="2.5" fill="#000"/><path d="M610.91 129.6 H622.7 M616.7 126 V133.5 M615.2 126 H618.2 M615.2 133.5 H618.2 M610.91 128.1 V131.1 M622.7 128.1 V131.1" stroke="#000" stroke-width="1" fill="none"/><circle cx="616.7" cy="129.6" r="2.5" fill="#000"/><path d="M622.7 129.6 H634.49 M628.5 126 V133.5 M627 126 H630 M627 133.5 H630 M622.7 128.1 V131.1 M634.49 128.1 V131.1" stroke="#000" stroke-width="1" fill="none"/><circle cx="628.5" cy="129.6" r="2.5" fill="#000"/></g><g clip-path="url(#cr3)"><rect x="516.59" y="151.2" width="11.79" height="11.6" fill="url(#dots2)"/><rect x="528.38" y="151" width="11.79" height="11.8" fill="url(#dots2)"/><rect x="540.17" y="149.7" width="11.79" height="14.6" fill="url(#dots2)"/><rect x="551.96" y="148.2" width="11.79" height="16.8" fill="url(#dots2)"/><rect x="563.75" y="146" width="11.79" height="19.8" fill="url(#dots2)"/><rect x="575.54" y="134.6" width="11.79" height="38.5" fill="url(#dots2)"/><rect x="587.33" y="149" width="11.79" height="15.3" fill="url(#dots2)"/><rect x="599.12" y="151.2" width="11.79" height="11.6" fill="url(#dots2)"/><rect x="610.91" y="146.8" width="11.79" height="20.4" fill="url(#dots2)"/><rect x="622.7" y="147.5" width="11.79" height="19.7" fill="url(#dots2)"/><rect x="634.49" y="143.9" width="11.79" height="25.5" fill="url(#dots2)"/><rect x="646.28" y="140.2" width="11.79" height="32.1" fill="url(#dots2)"/><rect x="658.07" y="146" width="11.79" height="21.2" fill="url(#dots2)"/><rect x="669.86" y="143.1" width="11.79" height="26.3" fill="url(#dots2)"/><path d="M516.59 158.5 H528.38 M522.1 154.1 V162.8 M520.6 154.1 H523.6 M520.6 162.8 H523.6 M516.59 157 V160 M528.38 157 V160" stroke="#000" stroke-width="1" fill="none"/><circle cx="522.1" cy="158.5" r="2.5" fill="#000"/><path d="M528.38 157 H540.17 M533.9 151.6 V162.4 M532.4 151.6 H535.4 M532.4 162.4 H535.4 M528.38 155.5 V158.5 M540.17 155.5 V158.5" stroke="#000" stroke-width="1" fill="none"/><circle cx="533.9" cy="157" r="2.5" fill="#000"/><path d="M540.17 160.7 H551.96 M545.7 153.4 V167.7 M544.2 153.4 H547.2 M544.2 167.7 H547.2 M540.17 159.2 V162.2 M551.96 159.2 V162.2" stroke="#000" stroke-width="1" fill="none"/><circle cx="545.7" cy="160.7" r="2.5" fill="#000"/><path d="M551.96 156.6 H563.75 M557.5 146.4 V166.2 M556 146.4 H559 M556 166.2 H559 M551.96 155.1 V158.1 M563.75 155.1 V158.1" stroke="#000" stroke-width="1" fill="none"/><circle cx="557.5" cy="156.6" r="2.5" fill="#000"/><path d="M563.75 139.9 H575.54 M569.3 135.8 V160.7 M567.8 135.8 H570.8 M567.8 160.7 H570.8 M563.75 138.4 V141.4 M575.54 138.4 V141.4" stroke="#000" stroke-width="1" fill="none"/><circle cx="569.3" cy="139.9" r="2.5" fill="#000"/><path d="M593.1 134.6 V173.1" stroke="#000" stroke-width="1" fill="none"/><path d="M616.7 134.6 V173.1" stroke="#000" stroke-width="1" fill="none"/><path d="M628.5 134.6 V173.1" stroke="#000" stroke-width="1" fill="none"/></g><rect x="504.8" y="1.3" width="176.9" height="133.3" fill="none" stroke="#000" stroke-width="1.1"/><rect x="504.8" y="134.6" width="176.9" height="38.5" fill="none" stroke="#000" stroke-width="1.1"/><path d="M504.8 134.4 H512.8 M681.7 134.4 H673.7 M504.8 127.38 H508.8 M681.7 127.38 H677.7 M504.8 120.36 H508.8 M681.7 120.36 H677.7 M504.8 113.34 H508.8 M681.7 113.34 H677.7 M504.8 106.32 H508.8 M681.7 106.32 H677.7 M504.8 99.3 H512.8 M681.7 99.3 H673.7 M504.8 92.28 H508.8 M681.7 92.28 H677.7 M504.8 85.26 H508.8 M681.7 85.26 H677.7 M504.8 78.24 H508.8 M681.7 78.24 H677.7 M504.8 71.22 H508.8 M681.7 71.22 H677.7 M504.8 64.2 H512.8 M681.7 64.2 H679.9 M504.8 57.18 H508.8 M681.7 57.18 H679.9 M504.8 50.16 H508.8 M681.7 50.16 H679.9 M504.8 43.14 H508.8 M681.7 43.14 H679.9 M504.8 36.12 H508.8 M681.7 36.12 H679.9 M504.8 29.1 H512.8 M681.7 29.1 H679.9 M504.8 22.08 H508.8 M681.7 22.08 H679.9 M504.8 15.06 H508.8 M681.7 15.06 H679.9 M504.8 8.04 H508.8 M681.7 8.04 H679.9 M504.8 166.1 H509.1 M681.7 166.1 H677.4 M504.8 157 H509.1 M681.7 157 H677.4 M504.8 147.9 H509.1 M681.7 147.9 H677.4 M504.8 138.8 H509.1 M681.7 138.8 H677.4 M504.8 1.3 V4.3 M504.8 134.6 V129.6 M504.8 134.6 V137.1 M504.8 173.1 V170.6 M512.66 1.3 V2.9 M512.66 134.6 V131.8 M512.66 134.6 V136 M512.66 173.1 V171.7 M520.52 1.3 V2.9 M520.52 134.6 V131.8 M520.52 134.6 V136 M520.52 173.1 V171.7 M528.39 1.3 V2.9 M528.39 134.6 V131.8 M528.39 134.6 V136 M528.39 173.1 V171.7 M536.25 1.3 V2.9 M536.25 134.6 V131.8 M536.25 134.6 V136 M536.25 173.1 V171.7 M544.11 1.3 V4.3 M544.11 134.6 V129.6 M544.11 134.6 V137.1 M544.11 173.1 V170.6 M551.97 1.3 V2.9 M551.97 134.6 V131.8 M551.97 134.6 V136 M551.97 173.1 V171.7 M559.84 1.3 V2.9 M559.84 134.6 V131.8 M559.84 134.6 V136 M559.84 173.1 V171.7 M567.7 1.3 V2.9 M567.7 134.6 V131.8 M567.7 134.6 V136 M567.7 173.1 V171.7 M575.56 1.3 V2.9 M575.56 134.6 V131.8 M575.56 134.6 V136 M575.56 173.1 V171.7 M583.42 1.3 V4.3 M583.42 134.6 V129.6 M583.42 134.6 V137.1 M583.42 173.1 V170.6 M591.28 1.3 V2.9 M591.28 134.6 V131.8 M591.28 134.6 V136 M591.28 173.1 V171.7 M599.15 1.3 V2.9 M599.15 134.6 V131.8 M599.15 134.6 V136 M599.15 173.1 V171.7 M607.01 1.3 V2.9 M607.01 134.6 V131.8 M607.01 134.6 V136 M607.01 173.1 V171.7 M614.87 1.3 V2.9 M614.87 134.6 V131.8 M614.87 134.6 V136 M614.87 173.1 V171.7 M622.73 1.3 V4.3 M622.73 134.6 V129.6 M622.73 134.6 V137.1 M622.73 173.1 V170.6 M630.6 1.3 V2.9 M630.6 134.6 V131.8 M630.6 134.6 V136 M630.6 173.1 V171.7 M638.46 1.3 V2.9 M638.46 134.6 V131.8 M638.46 134.6 V136 M638.46 173.1 V171.7 M646.32 1.3 V2.9 M646.32 134.6 V131.8 M646.32 134.6 V136 M646.32 173.1 V171.7 M654.18 1.3 V2.9 M654.18 134.6 V131.8 M654.18 134.6 V136 M654.18 173.1 V171.7 M662.04 1.3 V4.3 M662.04 134.6 V129.6 M662.04 134.6 V137.1 M662.04 173.1 V170.6 M669.91 1.3 V2.9 M669.91 134.6 V131.8 M669.91 134.6 V136 M669.91 173.1 V171.7 M677.77 1.3 V2.9 M677.77 134.6 V131.8 M677.77 134.6 V136 M677.77 173.1 V171.7 " stroke="#000" stroke-width="0.9" fill="none"/><text x="500.2" y="103" font-size="10" text-anchor="end" font-weight="bold" font-style="normal" font-family="Liberation Sans" >10</text><text x="500.2" y="67.6" font-size="10" text-anchor="end" font-weight="bold" font-style="normal" font-family="Liberation Sans" >20</text><text x="500.2" y="32.8" font-size="10" text-anchor="end" font-weight="bold" font-style="normal" font-family="Liberation Sans" >30</text><text x="500.2" y="142.4" font-size="10" text-anchor="end" font-weight="bold" font-style="normal" font-family="Liberation Sans" >2</text><text x="500.2" y="160.6" font-size="10" text-anchor="end" font-weight="bold" font-style="normal" font-family="Liberation Sans" >1</text><text x="504.8" y="184" font-size="10" text-anchor="middle" font-weight="bold" font-style="normal" font-family="Liberation Sans" >0</text><text x="544.1" y="184" font-size="10" text-anchor="middle" font-weight="bold" font-style="normal" font-family="Liberation Sans" >100</text><text x="583.4" y="184" font-size="10" text-anchor="middle" font-weight="bold" font-style="normal" font-family="Liberation Sans" >200</text><text x="622.7" y="184" font-size="10" text-anchor="middle" font-weight="bold" font-style="normal" font-family="Liberation Sans" >300</text><text x="662" y="184" font-size="10" text-anchor="middle" font-weight="bold" font-style="normal" font-family="Liberation Sans" >400</text><text x="479.7" y="2.5" font-size="10.2" text-anchor="end" font-weight="normal" font-style="normal" font-family="Liberation Sans" transform="rotate(-90 479.7 2.5)">Events / 30 GeV</text><text x="479.7" y="135" font-size="10" text-anchor="end" font-family="Liberation Sans" transform="rotate(-90 479.7 135)">Data/SM</text><text x="634.4" y="198.3" font-size="13.5" font-family="Liberation Serif" font-style="italic">p</text><text x="642.5" y="196.6" font-size="9.6" font-family="Liberation Serif" font-style="italic">ℓ</text><text x="646.3" y="196.8" font-size="7.6" font-family="Liberation Serif">1</text><text x="642" y="205.8" font-size="9.8" font-family="Liberation Serif">T</text><text x="652.2" y="202" font-size="12.4" font-family="Liberation Sans" textLength="32.8" lengthAdjust="spacing">[GeV]</text><text x="515.8" y="16.9" font-size="12" text-anchor="start" font-weight="bold" font-style="italic" font-family="Liberation Sans" >ATLAS</text><path transform="translate(515.2 20.3)" d="M-0.6 3.0 L1.0 2.1 L2.6 6.2 L3.2 0.3 H7.8 V1.0 H3.7 L2.9 8.0 H1.7 Z" fill="#000"/><text x="519.2" y="27.6" font-size="8" text-anchor="start" font-weight="normal" font-style="normal" font-family="Liberation Sans" >s=13 TeV</text><text x="566.3" y="27.8" font-size="8" text-anchor="start" font-weight="normal" font-style="normal" font-family="Liberation Sans" >36.1 fb<tspan font-size="5.6" dy="-3">-1</tspan></text><path d="M509 36 H526" stroke="#ff0000" stroke-width="2" stroke-dasharray="1.6 2.4"/><path d="M509 45.6 H526" stroke="#0000ff" stroke-width="2" stroke-dasharray="4.4 3.4"/><text x="529.7" y="37.6" font-size="8.6" text-anchor="start" font-weight="normal" font-style="normal" font-family="Liberation Sans" >H<tspan font-size="5.8" dy="-4.8" stroke-width="0.1">±±</tspan><tspan dy="4.8"> 200 GeV x 15</tspan></text><text x="529.7" y="47.2" font-size="8.6" text-anchor="start" font-weight="normal" font-style="normal" font-family="Liberation Sans" >H<tspan font-size="5.8" dy="-4.8" stroke-width="0.1">±±</tspan><tspan dy="4.8"> 500 GeV x 400</tspan></text><path d="M606.6 8.3 H619.6 M613.1 5.1 V12.2" stroke="#000" stroke-width="1"/><circle cx="613.1" cy="8.4" r="2.5"/><rect x="606.6" y="16.9" width="13.6" height="8.8" fill="#84c3a0" stroke="#000" stroke-width="1.1"/><rect x="606.6" y="29.45" width="13.6" height="8.8" fill="#d3cbae" stroke="#000" stroke-width="1.1"/><rect x="606.6" y="42" width="13.6" height="8.8" fill="#0000ff" stroke="#000" stroke-width="1.1"/><rect x="606.6" y="55.3" width="13.8" height="7.2" fill="url(#dots)"/><text x="623" y="11.1" font-size="8.6" text-anchor="start" font-weight="normal" font-style="normal" font-family="Liberation Sans" >Data</text><text x="623" y="23.65" font-size="8.6" text-anchor="start" font-weight="normal" font-style="normal" font-family="Liberation Sans" >Fake Lepton</text><text x="623" y="36.2" font-size="8.6" text-anchor="start" font-weight="normal" font-style="normal" font-family="Liberation Sans" >Other Prompt</text><text x="623" y="48.75" font-size="8.6" text-anchor="start" font-weight="normal" font-style="normal" font-family="Liberation Sans" >ZZ</text><text x="623" y="61.3" font-size="8.6" text-anchor="start" font-weight="normal" font-style="normal" font-family="Liberation Sans" >Uncertainty</text><clipPath id="cm4"><rect x="32.2" y="227.3" width="177.3" height="133.3"/></clipPath><clipPath id="cr4"><rect x="32.2" y="360.6" width="177.3" height="38.7"/></clipPath><g clip-path="url(#cm4)"><path d="M32.2 360.4 L32.2 360.4 L49.93 360.4 L49.93 354 L67.66 354 L67.66 347 L85.39 347 L85.39 341.5 L103.12 341.5 L103.12 327.5 L120.85 327.5 L120.85 310 L138.58 310 L138.58 317 L156.31 317 L156.31 349.7 L174.04 349.7 L174.04 354 L191.77 354 L191.77 358.2 L209.5 358.2 L209.5 360.4" fill="#84c3a0" stroke="#000" stroke-width="0.9"/><path d="M32.2 360.4 L32.2 360.4 L49.93 360.4 L49.93 355.6 L67.66 355.6 L67.66 352.6 L85.39 352.6 L85.39 350 L103.12 350 L103.12 348 L120.85 348 L120.85 342.8 L138.58 342.8 L138.58 338.8 L156.31 338.8 L156.31 357 L174.04 357 L174.04 358.5 L191.77 358.5 L191.77 358.4 L209.5 358.4 L209.5 360.4" fill="#d3cbae" stroke="#000" stroke-width="0.9"/><path d="M32.2 360.4 L32.2 360.4 L49.93 360.4 L49.93 356.6 L67.66 356.6 L67.66 354 L85.39 354 L85.39 351.2 L103.12 351.2 L103.12 350 L120.85 350 L120.85 348.8 L138.58 348.8 L138.58 343 L156.31 343 L156.31 358.4 L174.04 358.4 L174.04 359 L191.77 359 L191.77 358.4 L209.5 358.4 L209.5 360.4" fill="#0000ff" stroke="#000" stroke-width="0.9"/><rect x="49.93" y="351" width="17.73" height="6" fill="url(#dots)"/><rect x="67.66" y="342.8" width="17.73" height="8.4" fill="url(#dots)"/><rect x="85.39" y="335.5" width="17.73" height="12" fill="url(#dots)"/><rect x="103.12" y="316.5" width="17.73" height="22" fill="url(#dots)"/><rect x="120.85" y="293" width="17.73" height="34" fill="url(#dots)"/><rect x="138.58" y="304.5" width="17.73" height="25" fill="url(#dots)"/><rect x="156.31" y="345.2" width="17.73" height="9" fill="url(#dots)"/><rect x="174.04" y="351.5" width="17.73" height="5" fill="url(#dots)"/><rect x="191.77" y="357.2" width="17.73" height="2" fill="url(#dots)"/><path d="M32.2 352.6 L49.93 352.6 L49.93 325 L67.66 325 L67.66 315 L85.39 315 L85.39 324 L103.12 324 L103.12 329 L120.85 329 L120.85 336.1 L138.58 336.1 L138.58 348.3 L156.31 348.3 L156.31 358.4 L174.04 358.4 L174.04 359.5 L191.77 359.5 L191.77 359.5 L209.5 359.5" fill="none" stroke="#ff0000" stroke-width="2" stroke-dasharray="1.6 2.4"/><path d="M32.2 359.6 L49.93 359.6 L49.93 359.6 L67.66 359.6 L67.66 335.9 L85.39 335.9 L85.39 322.5 L103.12 322.5 L103.12 322.5 L120.85 322.5 L120.85 322.5 L138.58 322.5 L138.58 338.7 L156.31 338.7 L156.31 358.6 L174.04 358.6 L174.04 359.2 L191.77 359.2 L191.77 359.2 L209.5 359.2" fill="none" stroke="#0000ff" stroke-width="2" stroke-dasharray="4.4 3.4"/><path d="M49.93 352 H67.66 M59 346 V358 M57.5 346 H60.5 M57.5 358 H60.5 M49.93 350.5 V353.5 M67.66 350.5 V353.5" stroke="#000" stroke-width="1" fill="none"/><circle cx="59" cy="352" r="2.5" fill="#000"/><path d="M67.66 355.6 H85.39 M76.5 351.4 V359.8 M75 351.4 H78 M75 359.8 H78 M67.66 354.1 V357.1 M85.39 354.1 V357.1" stroke="#000" stroke-width="1" fill="none"/><circle cx="76.5" cy="355.6" r="2.5" fill="#000"/><path d="M85.39 334.7 H103.12 M94.2 324.4 V345.1 M92.7 324.4 H95.7 M92.7 345.1 H95.7 M85.39 333.2 V336.2 M103.12 333.2 V336.2" stroke="#000" stroke-width="1" fill="none"/><circle cx="94.2" cy="334.7" r="2.5" fill="#000"/><path d="M103.12 326.6 H120.85 M112 314.5 V338.4 M110.5 314.5 H113.5 M110.5 338.4 H113.5 M103.12 325.1 V328.1 M120.85 325.1 V328.1" stroke="#000" stroke-width="1" fill="none"/><circle cx="112" cy="326.6" r="2.5" fill="#000"/><path d="M120.85 305.3 H138.58 M129.7 290.2 V320.2 M128.2 290.2 H131.2 M128.2 320.2 H131.2 M120.85 303.8 V306.8 M138.58 303.8 V306.8" stroke="#000" stroke-width="1" fill="none"/><circle cx="129.7" cy="305.3" r="2.5" fill="#000"/><path d="M138.58 317.6 H156.31 M147.4 303.8 V331.3 M145.9 303.8 H148.9 M145.9 331.3 H148.9 M138.58 316.1 V319.1 M156.31 316.1 V319.1" stroke="#000" stroke-width="1" fill="none"/><circle cx="147.4" cy="317.6" r="2.5" fill="#000"/><path d="M156.31 347.5 H174.04 M165.2 339.9 V354 M163.7 339.9 H166.7 M163.7 354 H166.7 M156.31 346 V349 M174.04 346 V349" stroke="#000" stroke-width="1" fill="none"/><circle cx="165.2" cy="347.5" r="2.5" fill="#000"/><path d="M174.04 356.2 H191.77 M182.9 352 V360.4 M181.4 352 H184.4 M181.4 360.4 H184.4 M174.04 354.7 V357.7 M191.77 354.7 V357.7" stroke="#000" stroke-width="1" fill="none"/><circle cx="182.9" cy="356.2" r="2.5" fill="#000"/></g><g clip-path="url(#cr4)"><rect x="32.2" y="363.3" width="17.73" height="36" fill="url(#dots2)"/><rect x="49.93" y="377.2" width="17.73" height="10.9" fill="url(#dots2)"/><rect x="67.66" y="376.4" width="17.73" height="12.4" fill="url(#dots2)"/><rect x="85.39" y="376.4" width="17.73" height="11" fill="url(#dots2)"/><rect x="103.12" y="376.4" width="17.73" height="12.4" fill="url(#dots2)"/><rect x="120.85" y="375.7" width="17.73" height="12.8" fill="url(#dots2)"/><rect x="138.58" y="377.2" width="17.73" height="11.6" fill="url(#dots2)"/><rect x="156.31" y="373.5" width="17.73" height="19" fill="url(#dots2)"/><rect x="174.04" y="372.8" width="17.73" height="20.4" fill="url(#dots2)"/><rect x="191.77" y="369.9" width="17.73" height="26.2" fill="url(#dots2)"/><path d="M49.93 379.1 H67.66 M59 362.6 V396.1 M57.5 362.6 H60.5 M57.5 396.1 H60.5 M49.93 377.6 V380.6 M67.66 377.6 V380.6" stroke="#000" stroke-width="1" fill="none"/><circle cx="59" cy="379.1" r="2.5" fill="#000"/><path d="M67.66 395.7 H85.39 M76.5 390.3 V399.6 M75 390.3 H78 M75 399.6 H78 M67.66 394.2 V397.2 M85.39 394.2 V397.2" stroke="#000" stroke-width="1" fill="none"/><circle cx="76.5" cy="395.7" r="2.5" fill="#000"/><path d="M85.39 376.7 H103.12 M94.2 365.5 V387.8 M92.7 365.5 H95.7 M92.7 387.8 H95.7 M85.39 375.2 V378.2 M103.12 375.2 V378.2" stroke="#000" stroke-width="1" fill="none"/><circle cx="94.2" cy="376.7" r="2.5" fill="#000"/><path d="M103.12 382.7 H120.85 M112 375.3 V389.9 M110.5 375.3 H113.5 M110.5 389.9 H113.5 M103.12 381.2 V384.2 M120.85 381.2 V384.2" stroke="#000" stroke-width="1" fill="none"/><circle cx="112" cy="382.7" r="2.5" fill="#000"/><path d="M120.85 381.5 H138.58 M129.7 375 V387.8 M128.2 375 H131.2 M128.2 387.8 H131.2 M120.85 380 V383 M138.58 380 V383" stroke="#000" stroke-width="1" fill="none"/><circle cx="129.7" cy="381.5" r="2.5" fill="#000"/><path d="M138.58 383.4 H156.31 M147.4 377.2 V389.6 M145.9 377.2 H148.9 M145.9 389.6 H148.9 M138.58 381.9 V384.9 M156.31 381.9 V384.9" stroke="#000" stroke-width="1" fill="none"/><circle cx="147.4" cy="383.4" r="2.5" fill="#000"/><path d="M156.31 378.3 H174.04 M165.2 363.3 V393.7 M163.7 363.3 H166.7 M163.7 393.7 H166.7 M156.31 376.8 V379.8 M174.04 376.8 V379.8" stroke="#000" stroke-width="1" fill="none"/><circle cx="165.2" cy="378.3" r="2.5" fill="#000"/><path d="M174.04 387.4 H191.77 M182.9 372.4 V399.6 M181.4 372.4 H184.4 M181.4 399.6 H184.4 M174.04 385.9 V388.9 M191.77 385.9 V388.9" stroke="#000" stroke-width="1" fill="none"/><circle cx="182.9" cy="387.4" r="2.5" fill="#000"/></g><rect x="32.2" y="227.3" width="177.3" height="133.3" fill="none" stroke="#000" stroke-width="1.1"/><rect x="32.2" y="360.6" width="177.3" height="38.7" fill="none" stroke="#000" stroke-width="1.1"/><path d="M32.2 360.4 H40.2 M209.5 360.4 H201.5 M32.2 351.98 H36.2 M209.5 351.98 H205.5 M32.2 343.56 H36.2 M209.5 343.56 H205.5 M32.2 335.14 H36.2 M209.5 335.14 H205.5 M32.2 326.72 H36.2 M209.5 326.72 H205.5 M32.2 318.3 H40.2 M209.5 318.3 H201.5 M32.2 309.88 H36.2 M209.5 309.88 H205.5 M32.2 301.46 H36.2 M209.5 301.46 H205.5 M32.2 293.04 H36.2 M209.5 293.04 H207.7 M32.2 284.62 H36.2 M209.5 284.62 H207.7 M32.2 276.2 H40.2 M209.5 276.2 H207.7 M32.2 267.78 H36.2 M209.5 267.78 H207.7 M32.2 259.36 H36.2 M209.5 259.36 H207.7 M32.2 250.94 H36.2 M209.5 250.94 H207.7 M32.2 242.52 H36.2 M209.5 242.52 H207.7 M32.2 234.1 H40.2 M209.5 234.1 H207.7 M32.2 392.1 H36.5 M209.5 392.1 H205.2 M32.2 383 H36.5 M209.5 383 H205.2 M32.2 373.9 H36.5 M209.5 373.9 H205.2 M32.2 364.8 H36.5 M209.5 364.8 H205.2 M32.2 227.3 V230.3 M32.2 360.6 V355.6 M32.2 360.6 V363.1 M32.2 399.3 V396.8 M39.29 227.3 V228.9 M39.29 360.6 V357.8 M39.29 360.6 V362 M39.29 399.3 V397.9 M46.38 227.3 V228.9 M46.38 360.6 V357.8 M46.38 360.6 V362 M46.38 399.3 V397.9 M53.48 227.3 V228.9 M53.48 360.6 V357.8 M53.48 360.6 V362 M53.48 399.3 V397.9 M60.57 227.3 V228.9 M60.57 360.6 V357.8 M60.57 360.6 V362 M60.57 399.3 V397.9 M67.66 227.3 V230.3 M67.66 360.6 V355.6 M67.66 360.6 V363.1 M67.66 399.3 V396.8 M74.75 227.3 V228.9 M74.75 360.6 V357.8 M74.75 360.6 V362 M74.75 399.3 V397.9 M81.84 227.3 V228.9 M81.84 360.6 V357.8 M81.84 360.6 V362 M81.84 399.3 V397.9 M88.94 227.3 V228.9 M88.94 360.6 V357.8 M88.94 360.6 V362 M88.94 399.3 V397.9 M96.03 227.3 V228.9 M96.03 360.6 V357.8 M96.03 360.6 V362 M96.03 399.3 V397.9 M103.12 227.3 V230.3 M103.12 360.6 V355.6 M103.12 360.6 V363.1 M103.12 399.3 V396.8 M110.21 227.3 V228.9 M110.21 360.6 V357.8 M110.21 360.6 V362 M110.21 399.3 V397.9 M117.3 227.3 V228.9 M117.3 360.6 V357.8 M117.3 360.6 V362 M117.3 399.3 V397.9 M124.4 227.3 V228.9 M124.4 360.6 V357.8 M124.4 360.6 V362 M124.4 399.3 V397.9 M131.49 227.3 V228.9 M131.49 360.6 V357.8 M131.49 360.6 V362 M131.49 399.3 V397.9 M138.58 227.3 V230.3 M138.58 360.6 V355.6 M138.58 360.6 V363.1 M138.58 399.3 V396.8 M145.67 227.3 V228.9 M145.67 360.6 V357.8 M145.67 360.6 V362 M145.67 399.3 V397.9 M152.76 227.3 V228.9 M152.76 360.6 V357.8 M152.76 360.6 V362 M152.76 399.3 V397.9 M159.86 227.3 V228.9 M159.86 360.6 V357.8 M159.86 360.6 V362 M159.86 399.3 V397.9 M166.95 227.3 V228.9 M166.95 360.6 V357.8 M166.95 360.6 V362 M166.95 399.3 V397.9 M174.04 227.3 V230.3 M174.04 360.6 V355.6 M174.04 360.6 V363.1 M174.04 399.3 V396.8 M181.13 227.3 V228.9 M181.13 360.6 V357.8 M181.13 360.6 V362 M181.13 399.3 V397.9 M188.22 227.3 V228.9 M188.22 360.6 V357.8 M188.22 360.6 V362 M188.22 399.3 V397.9 M195.32 227.3 V228.9 M195.32 360.6 V357.8 M195.32 360.6 V362 M195.32 399.3 V397.9 M202.41 227.3 V228.9 M202.41 360.6 V357.8 M202.41 360.6 V362 M202.41 399.3 V397.9 M209.5 227.3 V230.3 M209.5 360.6 V355.6 M209.5 360.6 V363.1 M209.5 399.3 V396.8 " stroke="#000" stroke-width="0.9" fill="none"/><text x="28.9" y="321.9" font-size="10" text-anchor="end" font-weight="bold" font-style="normal" font-family="Liberation Sans" >10</text><text x="28.9" y="279" font-size="10" text-anchor="end" font-weight="bold" font-style="normal" font-family="Liberation Sans" >20</text><text x="28.9" y="237.1" font-size="10" text-anchor="end" font-weight="bold" font-style="normal" font-family="Liberation Sans" >30</text><text x="28.9" y="368.4" font-size="10" text-anchor="end" font-weight="bold" font-style="normal" font-family="Liberation Sans" >2</text><text x="28.9" y="386.6" font-size="10" text-anchor="end" font-weight="bold" font-style="normal" font-family="Liberation Sans" >1</text><text x="32.4" y="410.2" font-size="10" text-anchor="middle" font-weight="bold" font-style="normal" font-family="Liberation Sans" >0</text><text x="67.7" y="410.2" font-size="10" text-anchor="middle" font-weight="bold" font-style="normal" font-family="Liberation Sans" >1</text><text x="103.1" y="410.2" font-size="10" text-anchor="middle" font-weight="bold" font-style="normal" font-family="Liberation Sans" >2</text><text x="138.4" y="410.2" font-size="10" text-anchor="middle" font-weight="bold" font-style="normal" font-family="Liberation Sans" >3</text><text x="173.8" y="410.2" font-size="10" text-anchor="middle" font-weight="bold" font-style="normal" font-family="Liberation Sans" >4</text><text x="209.4" y="410.2" font-size="10" text-anchor="middle" font-weight="bold" font-style="normal" font-family="Liberation Sans" >5</text><text x="8.4" y="228.5" font-size="10.2" text-anchor="end" font-weight="normal" font-style="normal" font-family="Liberation Sans" transform="rotate(-90 8.4 228.5)">Events / 0.5 rad</text><text x="8.4" y="361" font-size="10" text-anchor="end" font-family="Liberation Sans" transform="rotate(-90 8.4 361)">Data/SM</text><text x="147.2" y="428.5" font-size="12.6" font-family="Liberation Serif">Δ</text><text x="154.8" y="428.5" font-size="13.5" font-family="Liberation Serif" font-style="italic">R</text><text x="165.1" y="420.3" font-size="9.2" font-family="Liberation Serif" textLength="16.2" lengthAdjust="spacingAndGlyphs">max</text><text x="164.6" y="430.6" font-size="9.4" font-family="Liberation Serif" font-style="italic">ℓ</text><text x="169.2" y="428.4" font-size="8" font-family="Liberation Serif">±</text><text x="173.8" y="430.6" font-size="9.4" font-family="Liberation Serif" font-style="italic">ℓ</text><text x="178.2" y="428.4" font-size="8" font-family="Liberation Serif">±</text><text x="184.6" y="428.4" font-size="12.4" font-family="Liberation Sans">[rad]</text><text x="44.5" y="242.9" font-size="12" text-anchor="start" font-weight="bold" font-style="italic" font-family="Liberation Sans" >ATLAS</text><path transform="translate(43.9 246.3)" d="M-0.6 3.0 L1.0 2.1 L2.6 6.2 L3.2 0.3 H7.8 V1.0 H3.7 L2.9 8.0 H1.7 Z" fill="#000"/><text x="47.9" y="253.6" font-size="8" text-anchor="start" font-weight="normal" font-style="normal" font-family="Liberation Sans" >s=13 TeV</text><text x="95" y="253.8" font-size="8" text-anchor="start" font-weight="normal" font-style="normal" font-family="Liberation Sans" >36.1 fb<tspan font-size="5.6" dy="-3">-1</tspan></text><path d="M37.7 262 H54.7" stroke="#ff0000" stroke-width="2" stroke-dasharray="1.6 2.4"/><path d="M37.7 271.6 H54.7" stroke="#0000ff" stroke-width="2" stroke-dasharray="4.4 3.4"/><text x="58.4" y="263.6" font-size="8.6" text-anchor="start" font-weight="normal" font-style="normal" font-family="Liberation Sans" >H<tspan font-size="5.8" dy="-4.8" stroke-width="0.1">±±</tspan><tspan dy="4.8"> 200 GeV x 15</tspan></text><text x="58.4" y="273.2" font-size="8.6" text-anchor="start" font-weight="normal" font-style="normal" font-family="Liberation Sans" >H<tspan font-size="5.8" dy="-4.8" stroke-width="0.1">±±</tspan><tspan dy="4.8"> 500 GeV x 400</tspan></text><path d="M135.3 234.3 H148.3 M141.8 231.1 V238.2" stroke="#000" stroke-width="1"/><circle cx="141.8" cy="234.4" r="2.5"/><rect x="135.3" y="242.9" width="13.6" height="8.8" fill="#84c3a0" stroke="#000" stroke-width="1.1"/><rect x="135.3" y="255.45" width="13.6" height="8.8" fill="#d3cbae" stroke="#000" stroke-width="1.1"/><rect x="135.3" y="268" width="13.6" height="8.8" fill="#0000ff" stroke="#000" stroke-width="1.1"/><rect x="135.3" y="281.3" width="13.8" height="7.2" fill="url(#dots)"/><text x="151.7" y="237.1" font-size="8.6" text-anchor="start" font-weight="normal" font-style="normal" font-family="Liberation Sans" >Data</text><text x="151.7" y="249.65" font-size="8.6" text-anchor="start" font-weight="normal" font-style="normal" font-family="Liberation Sans" >Fake Lepton</text><text x="151.7" y="262.2" font-size="8.6" text-anchor="start" font-weight="normal" font-style="normal" font-family="Liberation Sans" >Other Prompt</text><text x="151.7" y="274.75" font-size="8.6" text-anchor="start" font-weight="normal" font-style="normal" font-family="Liberation Sans" >ZZ</text><text x="151.7" y="287.3" font-size="8.6" text-anchor="start" font-weight="normal" font-style="normal" font-family="Liberation Sans" >Uncertainty</text><clipPath id="cm5"><rect x="268.7" y="227.3" width="177.5" height="133.3"/></clipPath><clipPath id="cr5"><rect x="268.7" y="360.6" width="177.5" height="38.7"/></clipPath><g clip-path="url(#cm5)"><path d="M268.7 360.4 L268.7 345.2 L286.45 345.2 L286.45 332.1 L304.2 332.1 L304.2 315.8 L321.95 315.8 L321.95 328.4 L339.7 328.4 L339.7 323.8 L357.45 323.8 L357.45 332.2 L375.2 332.2 L375.2 354 L392.95 354 L392.95 359.3 L410.7 359.3 L410.7 359.3 L428.45 359.3 L428.45 360.4 L446.2 360.4 L446.2 360.4" fill="#84c3a0" stroke="#000" stroke-width="0.9"/><path d="M268.7 360.4 L268.7 351.7 L286.45 351.7 L286.45 345.2 L304.2 345.2 L304.2 340.2 L321.95 340.2 L321.95 351.7 L339.7 351.7 L339.7 347.5 L357.45 347.5 L357.45 347.5 L375.2 347.5 L375.2 356 L392.95 356 L392.95 359.5 L410.7 359.5 L410.7 359.5 L428.45 359.5 L428.45 360.4 L446.2 360.4 L446.2 360.4" fill="#d3cbae" stroke="#000" stroke-width="0.9"/><path d="M268.7 360.4 L268.7 353.9 L286.45 353.9 L286.45 347.3 L304.2 347.3 L304.2 343 L321.95 343 L321.95 355.5 L339.7 355.5 L339.7 350.8 L357.45 350.8 L357.45 349.7 L375.2 349.7 L375.2 356.2 L392.95 356.2 L392.95 359.5 L410.7 359.5 L410.7 359.5 L428.45 359.5 L428.45 360.4 L446.2 360.4 L446.2 360.4" fill="#0000ff" stroke="#000" stroke-width="0.9"/><rect x="268.7" y="341.2" width="17.75" height="8" fill="url(#dots)"/><rect x="286.45" y="324.5" width="17.75" height="15.2" fill="url(#dots)"/><rect x="304.2" y="302.8" width="17.75" height="26" fill="url(#dots)"/><rect x="321.95" y="317.9" width="17.75" height="21" fill="url(#dots)"/><rect x="339.7" y="313.4" width="17.75" height="20.8" fill="url(#dots)"/><rect x="357.45" y="322.4" width="17.75" height="19.6" fill="url(#dots)"/><rect x="375.2" y="352.5" width="17.75" height="3" fill="url(#dots)"/><rect x="392.95" y="358.3" width="17.75" height="2" fill="url(#dots)"/><rect x="410.7" y="358.3" width="17.75" height="2" fill="url(#dots)"/><path d="M268.7 311.4 L286.45 311.4 L286.45 289.2 L304.2 289.2 L304.2 319.7 L321.95 319.7 L321.95 338.6 L339.7 338.6 L339.7 352.8 L357.45 352.8 L357.45 357.3 L375.2 357.3 L375.2 359 L392.95 359 L392.95 359.5 L410.7 359.5 L410.7 359.5 L428.45 359.5 L428.45 359.5 L446.2 359.5" fill="none" stroke="#ff0000" stroke-width="2" stroke-dasharray="1.6 2.4"/><path d="M268.7 359.5 L286.45 359.5 L286.45 359.5 L304.2 359.5 L304.2 310.3 L321.95 310.3 L321.95 311 L339.7 311 L339.7 315.8 L357.45 315.8 L357.45 341 L375.2 341 L375.2 359 L392.95 359 L392.95 359.5 L410.7 359.5 L410.7 359.5 L428.45 359.5 L428.45 359.5 L446.2 359.5" fill="none" stroke="#0000ff" stroke-width="2" stroke-dasharray="4.4 3.4"/><path d="M268.7 343 H286.45 M277.5 334.3 V351.7 M276 334.3 H279 M276 351.7 H279 M268.7 341.5 V344.5 M286.45 341.5 V344.5" stroke="#000" stroke-width="1" fill="none"/><circle cx="277.5" cy="343" r="2.5" fill="#000"/><path d="M286.45 334.7 H304.2 M295.2 324.5 V345.2 M293.7 324.5 H296.7 M293.7 345.2 H296.7 M286.45 333.2 V336.2 M304.2 333.2 V336.2" stroke="#000" stroke-width="1" fill="none"/><circle cx="295.2" cy="334.7" r="2.5" fill="#000"/><path d="M304.2 326.2 H321.95 M313 314.7 V335.4 M311.5 314.7 H314.5 M311.5 335.4 H314.5 M304.2 324.7 V327.7 M321.95 324.7 V327.7" stroke="#000" stroke-width="1" fill="none"/><circle cx="313" cy="326.2" r="2.5" fill="#000"/><path d="M321.95 326.2 H339.7 M330.7 314.7 V337.5 M329.2 314.7 H332.2 M329.2 337.5 H332.2 M321.95 324.7 V327.7 M339.7 324.7 V327.7" stroke="#000" stroke-width="1" fill="none"/><circle cx="330.7" cy="326.2" r="2.5" fill="#000"/><path d="M339.7 322 H357.45 M348.5 309.3 V334.4 M347 309.3 H350 M347 334.4 H350 M339.7 320.5 V323.5 M357.45 320.5 V323.5" stroke="#000" stroke-width="1" fill="none"/><circle cx="348.5" cy="322" r="2.5" fill="#000"/><path d="M357.45 326.3 H375.2 M366.3 314.8 V338.1 M364.8 314.8 H367.8 M364.8 338.1 H367.8 M357.45 324.8 V327.8 M375.2 324.8 V327.8" stroke="#000" stroke-width="1" fill="none"/><circle cx="366.3" cy="326.3" r="2.5" fill="#000"/><path d="M375.2 356.2 H392.95 M384 351.9 V359.5 M382.5 351.9 H385.5 M382.5 359.5 H385.5 M375.2 354.7 V357.7 M392.95 354.7 V357.7" stroke="#000" stroke-width="1" fill="none"/><circle cx="384" cy="356.2" r="2.5" fill="#000"/></g><g clip-path="url(#cr5)"><rect x="268.7" y="377.2" width="17.75" height="12.4" fill="url(#dots2)"/><rect x="286.45" y="378" width="17.75" height="10" fill="url(#dots2)"/><rect x="304.2" y="378" width="17.75" height="9.4" fill="url(#dots2)"/><rect x="321.95" y="376.4" width="17.75" height="13.2" fill="url(#dots2)"/><rect x="339.7" y="376.4" width="17.75" height="12.4" fill="url(#dots2)"/><rect x="357.45" y="376.4" width="17.75" height="12.4" fill="url(#dots2)"/><rect x="375.2" y="372" width="17.75" height="22" fill="url(#dots2)"/><rect x="392.95" y="360.6" width="17.75" height="38.7" fill="url(#dots2)"/><rect x="410.7" y="360.6" width="17.75" height="38.7" fill="url(#dots2)"/><path d="M268.7 378.6 H286.45 M277.5 366.2 V391 M276 366.2 H279 M276 391 H279 M268.7 377.1 V380.1 M286.45 377.1 V380.1" stroke="#000" stroke-width="1" fill="none"/><circle cx="277.5" cy="378.6" r="2.5" fill="#000"/><path d="M286.45 384.5 H304.2 M295.2 377.2 V391.8 M293.7 377.2 H296.7 M293.7 391.8 H296.7 M286.45 383 V386 M304.2 383 V386" stroke="#000" stroke-width="1" fill="none"/><circle cx="295.2" cy="384.5" r="2.5" fill="#000"/><path d="M304.2 387.4 H321.95 M313 382.3 V392.2 M311.5 382.3 H314.5 M311.5 392.2 H314.5 M304.2 385.9 V388.9 M321.95 385.9 V388.9" stroke="#000" stroke-width="1" fill="none"/><circle cx="313" cy="387.4" r="2.5" fill="#000"/><path d="M321.95 381.1 H339.7 M330.7 373.2 V389.3 M329.2 373.2 H332.2 M329.2 389.3 H332.2 M321.95 379.6 V382.6 M339.7 379.6 V382.6" stroke="#000" stroke-width="1" fill="none"/><circle cx="330.7" cy="381.1" r="2.5" fill="#000"/><path d="M339.7 381.5 H357.45 M348.5 374.2 V388.1 M347 374.2 H350 M347 388.1 H350 M339.7 380 V383 M357.45 380 V383" stroke="#000" stroke-width="1" fill="none"/><circle cx="348.5" cy="381.5" r="2.5" fill="#000"/><path d="M357.45 379.1 H375.2 M366.3 370.6 V388.1 M364.8 370.6 H367.8 M364.8 388.1 H367.8 M357.45 377.6 V380.6 M375.2 377.6 V380.6" stroke="#000" stroke-width="1" fill="none"/><circle cx="366.3" cy="379.1" r="2.5" fill="#000"/><path d="M375.2 384.9 H392.95 M384 366.5 V399.6 M382.5 366.5 H385.5 M382.5 399.6 H385.5 M375.2 383.4 V386.4 M392.95 383.4 V386.4" stroke="#000" stroke-width="1" fill="none"/><circle cx="384" cy="384.9" r="2.5" fill="#000"/></g><rect x="268.7" y="227.3" width="177.5" height="133.3" fill="none" stroke="#000" stroke-width="1.1"/><rect x="268.7" y="360.6" width="177.5" height="38.7" fill="none" stroke="#000" stroke-width="1.1"/><path d="M268.7 360.4 H276.7 M446.2 360.4 H438.2 M268.7 351.98 H272.7 M446.2 351.98 H442.2 M268.7 343.56 H272.7 M446.2 343.56 H442.2 M268.7 335.14 H272.7 M446.2 335.14 H442.2 M268.7 326.72 H272.7 M446.2 326.72 H442.2 M268.7 318.3 H276.7 M446.2 318.3 H438.2 M268.7 309.88 H272.7 M446.2 309.88 H442.2 M268.7 301.46 H272.7 M446.2 301.46 H442.2 M268.7 293.04 H272.7 M446.2 293.04 H444.4 M268.7 284.62 H272.7 M446.2 284.62 H444.4 M268.7 276.2 H276.7 M446.2 276.2 H444.4 M268.7 267.78 H272.7 M446.2 267.78 H444.4 M268.7 259.36 H272.7 M446.2 259.36 H444.4 M268.7 250.94 H272.7 M446.2 250.94 H444.4 M268.7 242.52 H272.7 M446.2 242.52 H444.4 M268.7 234.1 H276.7 M446.2 234.1 H444.4 M268.7 392.1 H273 M446.2 392.1 H441.9 M268.7 383 H273 M446.2 383 H441.9 M268.7 373.9 H273 M446.2 373.9 H441.9 M268.7 364.8 H273 M446.2 364.8 H441.9 M268.7 227.3 V230.3 M268.7 360.6 V355.6 M268.7 360.6 V363.1 M268.7 399.3 V396.8 M275.8 227.3 V228.9 M275.8 360.6 V357.8 M275.8 360.6 V362 M275.8 399.3 V397.9 M282.9 227.3 V228.9 M282.9 360.6 V357.8 M282.9 360.6 V362 M282.9 399.3 V397.9 M290 227.3 V228.9 M290 360.6 V357.8 M290 360.6 V362 M290 399.3 V397.9 M297.1 227.3 V228.9 M297.1 360.6 V357.8 M297.1 360.6 V362 M297.1 399.3 V397.9 M304.2 227.3 V230.3 M304.2 360.6 V355.6 M304.2 360.6 V363.1 M304.2 399.3 V396.8 M311.3 227.3 V228.9 M311.3 360.6 V357.8 M311.3 360.6 V362 M311.3 399.3 V397.9 M318.4 227.3 V228.9 M318.4 360.6 V357.8 M318.4 360.6 V362 M318.4 399.3 V397.9 M325.5 227.3 V228.9 M325.5 360.6 V357.8 M325.5 360.6 V362 M325.5 399.3 V397.9 M332.6 227.3 V228.9 M332.6 360.6 V357.8 M332.6 360.6 V362 M332.6 399.3 V397.9 M339.7 227.3 V230.3 M339.7 360.6 V355.6 M339.7 360.6 V363.1 M339.7 399.3 V396.8 M346.8 227.3 V228.9 M346.8 360.6 V357.8 M346.8 360.6 V362 M346.8 399.3 V397.9 M353.9 227.3 V228.9 M353.9 360.6 V357.8 M353.9 360.6 V362 M353.9 399.3 V397.9 M361 227.3 V228.9 M361 360.6 V357.8 M361 360.6 V362 M361 399.3 V397.9 M368.1 227.3 V228.9 M368.1 360.6 V357.8 M368.1 360.6 V362 M368.1 399.3 V397.9 M375.2 227.3 V230.3 M375.2 360.6 V355.6 M375.2 360.6 V363.1 M375.2 399.3 V396.8 M382.3 227.3 V228.9 M382.3 360.6 V357.8 M382.3 360.6 V362 M382.3 399.3 V397.9 M389.4 227.3 V228.9 M389.4 360.6 V357.8 M389.4 360.6 V362 M389.4 399.3 V397.9 M396.5 227.3 V228.9 M396.5 360.6 V357.8 M396.5 360.6 V362 M396.5 399.3 V397.9 M403.6 227.3 V228.9 M403.6 360.6 V357.8 M403.6 360.6 V362 M403.6 399.3 V397.9 M410.7 227.3 V230.3 M410.7 360.6 V355.6 M410.7 360.6 V363.1 M410.7 399.3 V396.8 M417.8 227.3 V228.9 M417.8 360.6 V357.8 M417.8 360.6 V362 M417.8 399.3 V397.9 M424.9 227.3 V228.9 M424.9 360.6 V357.8 M424.9 360.6 V362 M424.9 399.3 V397.9 M432 227.3 V228.9 M432 360.6 V357.8 M432 360.6 V362 M432 399.3 V397.9 M439.1 227.3 V228.9 M439.1 360.6 V357.8 M439.1 360.6 V362 M439.1 399.3 V397.9 M446.2 227.3 V230.3 M446.2 360.6 V355.6 M446.2 360.6 V363.1 M446.2 399.3 V396.8 " stroke="#000" stroke-width="0.9" fill="none"/><text x="264.8" y="321.2" font-size="10" text-anchor="end" font-weight="bold" font-style="normal" font-family="Liberation Sans" >10</text><text x="264.8" y="279.1" font-size="10" text-anchor="end" font-weight="bold" font-style="normal" font-family="Liberation Sans" >20</text><text x="264.8" y="237.1" font-size="10" text-anchor="end" font-weight="bold" font-style="normal" font-family="Liberation Sans" >30</text><text x="264.8" y="368.4" font-size="10" text-anchor="end" font-weight="bold" font-style="normal" font-family="Liberation Sans" >2</text><text x="264.8" y="386.6" font-size="10" text-anchor="end" font-weight="bold" font-style="normal" font-family="Liberation Sans" >1</text><text x="268" y="410.2" font-size="10" text-anchor="middle" font-weight="bold" font-style="normal" font-family="Liberation Sans" >0</text><text x="303.6" y="410.2" font-size="10" text-anchor="middle" font-weight="bold" font-style="normal" font-family="Liberation Sans" >1</text><text x="339.1" y="410.2" font-size="10" text-anchor="middle" font-weight="bold" font-style="normal" font-family="Liberation Sans" >2</text><text x="374.6" y="410.2" font-size="10" text-anchor="middle" font-weight="bold" font-style="normal" font-family="Liberation Sans" >3</text><text x="410.1" y="410.2" font-size="10" text-anchor="middle" font-weight="bold" font-style="normal" font-family="Liberation Sans" >4</text><text x="445.7" y="410.2" font-size="10" text-anchor="middle" font-weight="bold" font-style="normal" font-family="Liberation Sans" >5</text><text x="244.3" y="228.5" font-size="10.2" text-anchor="end" font-weight="normal" font-style="normal" font-family="Liberation Sans" transform="rotate(-90 244.3 228.5)">Events / 0.5 rad</text><text x="244.3" y="361" font-size="10" text-anchor="end" font-family="Liberation Sans" transform="rotate(-90 244.3 361)">Data/SM</text><text x="385.1" y="428.5" font-size="12.6" font-family="Liberation Serif">Δ</text><text x="392.7" y="428.5" font-size="13.5" font-family="Liberation Serif" font-style="italic">R</text><text x="402.4" y="419.9" font-size="9.2" font-family="Liberation Serif" textLength="14.9" lengthAdjust="spacingAndGlyphs">min</text><text x="401.9" y="430.6" font-size="9.4" font-family="Liberation Serif" font-style="italic">ℓ</text><text x="406.5" y="428.6" font-size="8.8" font-family="Liberation Serif">±</text><text x="411.4" y="430.6" font-size="9.4" font-family="Liberation Serif" font-style="italic">ℓ</text><text x="416.0" y="428.6" font-size="8.8" font-family="Liberation Serif">±</text><text x="422.6" y="428.4" font-size="12.4" font-family="Liberation Sans" textLength="24" lengthAdjust="spacing">[rad]</text><text x="279.6" y="242.9" font-size="12" text-anchor="start" font-weight="bold" font-style="italic" font-family="Liberation Sans" >ATLAS</text><path transform="translate(279 246.3)" d="M-0.6 3.0 L1.0 2.1 L2.6 6.2 L3.2 0.3 H7.8 V1.0 H3.7 L2.9 8.0 H1.7 Z" fill="#000"/><text x="283" y="253.6" font-size="8" text-anchor="start" font-weight="normal" font-style="normal" font-family="Liberation Sans" >s=13 TeV</text><text x="330.1" y="253.8" font-size="8" text-anchor="start" font-weight="normal" font-style="normal" font-family="Liberation Sans" >36.1 fb<tspan font-size="5.6" dy="-3">-1</tspan></text><path d="M272.8 262 H289.8" stroke="#ff0000" stroke-width="2" stroke-dasharray="1.6 2.4"/><path d="M272.8 271.6 H289.8" stroke="#0000ff" stroke-width="2" stroke-dasharray="4.4 3.4"/><text x="293.5" y="263.6" font-size="8.6" text-anchor="start" font-weight="normal" font-style="normal" font-family="Liberation Sans" >H<tspan font-size="5.8" dy="-4.8" stroke-width="0.1">±±</tspan><tspan dy="4.8"> 200 GeV x 15</tspan></text><text x="293.5" y="273.2" font-size="8.6" text-anchor="start" font-weight="normal" font-style="normal" font-family="Liberation Sans" >H<tspan font-size="5.8" dy="-4.8" stroke-width="0.1">±±</tspan><tspan dy="4.8"> 500 GeV x 400</tspan></text><path d="M370.4 234.3 H383.4 M376.9 231.1 V238.2" stroke="#000" stroke-width="1"/><circle cx="376.9" cy="234.4" r="2.5"/><rect x="370.4" y="242.9" width="13.6" height="8.8" fill="#84c3a0" stroke="#000" stroke-width="1.1"/><rect x="370.4" y="255.45" width="13.6" height="8.8" fill="#d3cbae" stroke="#000" stroke-width="1.1"/><rect x="370.4" y="268" width="13.6" height="8.8" fill="#0000ff" stroke="#000" stroke-width="1.1"/><rect x="370.4" y="281.3" width="13.8" height="7.2" fill="url(#dots)"/><text x="386.8" y="237.1" font-size="8.6" text-anchor="start" font-weight="normal" font-style="normal" font-family="Liberation Sans" >Data</text><text x="386.8" y="249.65" font-size="8.6" text-anchor="start" font-weight="normal" font-style="normal" font-family="Liberation Sans" >Fake Lepton</text><text x="386.8" y="262.2" font-size="8.6" text-anchor="start" font-weight="normal" font-style="normal" font-family="Liberation Sans" >Other Prompt</text><text x="386.8" y="274.75" font-size="8.6" text-anchor="start" font-weight="normal" font-style="normal" font-family="Liberation Sans" >ZZ</text><text x="386.8" y="287.3" font-size="8.6" text-anchor="start" font-weight="normal" font-style="normal" font-family="Liberation Sans" >Uncertainty</text></svg></body></html>
